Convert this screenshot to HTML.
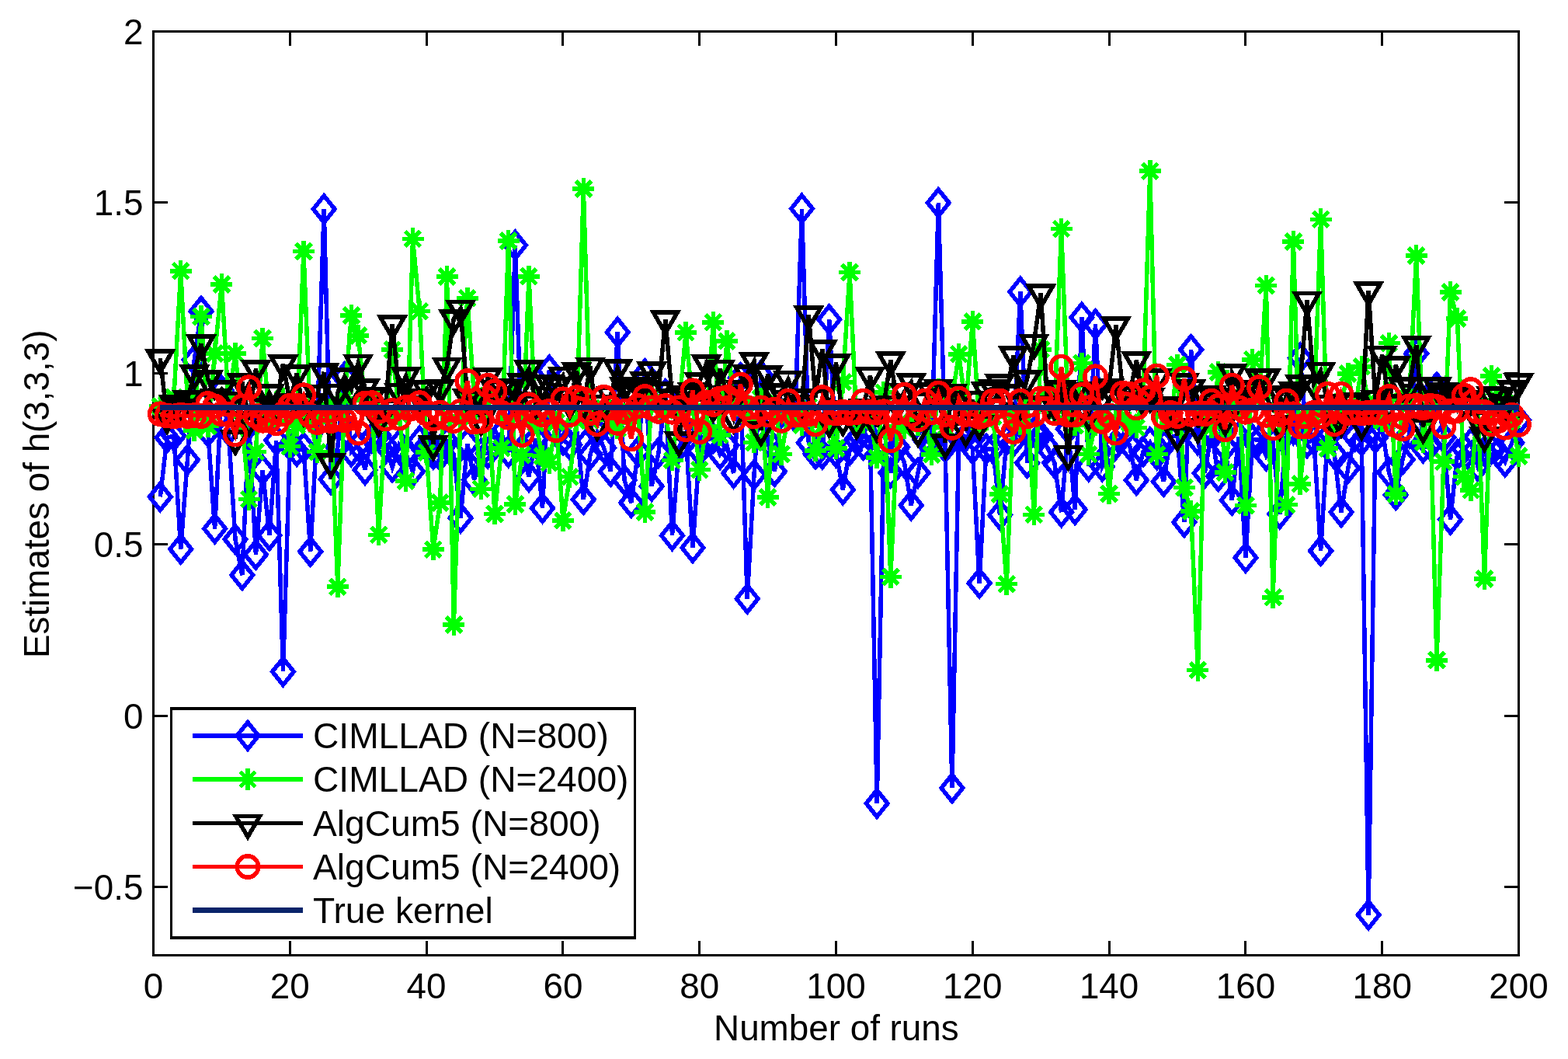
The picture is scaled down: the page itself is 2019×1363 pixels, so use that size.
<!DOCTYPE html>
<html lang="en"><head><meta charset="utf-8"><title>Estimates of h(3,3,3)</title>
<style>html,body{margin:0;padding:0;background:#fff}body{width:2019px;height:1363px;overflow:hidden}svg{display:block}text{font-family:"Liberation Sans",Arial,Helvetica,sans-serif;font-size:45.8px;fill:#000}</style></head><body>
<svg width="2019" height="1363" viewBox="0 0 2019 1363">
<rect x="0" y="0" width="2019" height="1363" fill="#fff"/>
<g stroke="#000" stroke-width="3" fill="none" shape-rendering="crispEdges">
<rect x="197.5" y="40.3" width="1758" height="1189.1"/>
<path d="M197.5,1229.4v-18.5M197.5,40.3v18.5M373.3,1229.4v-18.5M373.3,40.3v18.5M549.1,1229.4v-18.5M549.1,40.3v18.5M724.9,1229.4v-18.5M724.9,40.3v18.5M900.7,1229.4v-18.5M900.7,40.3v18.5M1076.5,1229.4v-18.5M1076.5,40.3v18.5M1252.3,1229.4v-18.5M1252.3,40.3v18.5M1428.1,1229.4v-18.5M1428.1,40.3v18.5M1603.9,1229.4v-18.5M1603.9,40.3v18.5M1779.7,1229.4v-18.5M1779.7,40.3v18.5M1955.5,1229.4v-18.5M1955.5,40.3v18.5M197.5,1141.3h18.5M1955.5,1141.3h-18.5M197.5,921.1h18.5M1955.5,921.1h-18.5M197.5,700.9h18.5M1955.5,700.9h-18.5M197.5,480.7h18.5M1955.5,480.7h-18.5M197.5,260.5h18.5M1955.5,260.5h-18.5M197.5,40.3h18.5M1955.5,40.3h-18.5"/>
</g>
<g shape-rendering="crispEdges">
<polyline points="206.3,639.4 215.1,563.2 223.9,561 232.7,706.8 241.4,591.8 250.2,463.3 259,400.7 267.8,555.7 276.6,680.4 285.4,502.9 294.2,554 303,694 311.8,740.2 320.6,546.9 329.4,713.8 338.1,605.1 346.9,689.2 355.7,566.7 364.5,864.4 373.3,573.3 382.1,580.8 390.9,576 399.7,709.9 408.5,546.9 417.2,269.1 426,616.9 434.8,575.1 443.6,485.3 452.4,581.3 461.2,573.3 470,604.6 478.8,563.7 487.6,560.1 496.4,573.3 505.1,601.3 513.9,572.5 522.7,583.9 531.5,606.8 540.3,567.6 549.1,573.8 557.9,584.4 566.7,586.6 575.5,568.5 584.3,585.2 593,666.7 601.8,571.1 610.6,617.8 619.4,583.9 628.2,583.5 637,571.6 645.8,557.5 654.6,582.2 663.4,315.7 672.2,578.6 681,613.6 689.7,564.5 698.5,654.1 707.3,476.5 716.1,553.1 724.9,566.3 733.7,572.5 742.5,552.2 751.3,642.9 760.1,584.8 768.9,556.2 777.6,576.4 786.4,606.8 795.2,427.6 804,617.8 812.8,647 821.6,581.3 830.4,481.3 839.2,625.8 848,582.6 856.8,507.3 865.5,689.2 874.3,575.5 883.1,557.9 891.9,705 900.7,580.4 909.5,565.9 918.3,564.1 927.1,584.8 935.9,573.3 944.6,609 953.4,486.2 962.2,770.6 971,611.2 979.8,483.1 988.6,567.2 997.4,606.8 1006.2,531.5 1015,530.2 1023.8,537.2 1032.5,268.6 1041.3,569.8 1050.1,584.4 1058.9,584.4 1067.7,411.3 1076.5,582.2 1085.3,630.3 1094.1,579.5 1102.9,565.9 1111.7,572.9 1120.5,562.8 1129.2,1034 1138,571.6 1146.8,608.6 1155.6,575.5 1164.4,595.4 1173.2,650.4 1182,608.6 1190.8,565.9 1199.6,570.7 1208.3,261.1 1217.1,576 1225.9,1014.2 1234.7,558.4 1243.5,561.9 1252.3,577.8 1261.1,750.6 1269.9,577.8 1278.7,577.8 1287.5,662.7 1296.2,566.3 1305,568.1 1313.8,375.6 1322.6,595.8 1331.4,555.7 1340.2,561 1349,576.4 1357.8,595.8 1366.6,659.2 1375.4,552.2 1384.2,655.9 1392.9,408.6 1401.7,600.2 1410.5,417.2 1419.3,600.2 1428.1,582.6 1436.9,572 1445.7,559.7 1454.5,573.3 1463.3,618 1472,581.3 1480.8,569.4 1489.6,585.2 1498.4,619.8 1507.2,563.2 1516,559.7 1524.8,672.2 1533.6,450 1542.4,566.3 1551.2,609 1560,555.7 1568.7,613 1577.5,575.5 1586.3,643.8 1595.1,561.9 1603.9,717.8 1612.7,565.4 1621.5,566.3 1630.3,586.6 1639.1,570.7 1647.8,661.4 1656.6,557.1 1665.4,553.1 1674.2,460.6 1683,569.8 1691.8,565.9 1700.6,709 1709.4,563.2 1718.2,584.4 1727,659.2 1735.8,602.4 1744.5,561.9 1753.3,567.2 1762.1,1177.5 1770.9,563.7 1779.7,551.8 1788.5,608.1 1797.3,637 1806.1,591.4 1814.9,557.5 1823.7,455.1 1832.4,576.4 1841.2,572.9 1850,498.5 1858.8,563.2 1867.6,668.6 1876.4,585.7 1885.2,577.8 1894,570.3 1902.8,599.8 1911.5,580.8 1920.3,577.8 1929.1,582.6 1937.9,594.6 1946.7,569.8 1955.5,540.8" fill="none" stroke="#0000ff" stroke-width="5.5" stroke-linejoin="miter"/>
<path d="M206.3,622.2L220.1,639.4L206.3,656.6L192.5,639.4ZM215.1,546L228.9,563.2L215.1,580.4L201.3,563.2ZM223.9,543.8L237.7,561L223.9,578.2L210.1,561ZM232.7,689.6L246.5,706.8L232.7,724L218.9,706.8ZM241.4,574.6L255.2,591.8L241.4,609L227.6,591.8ZM250.2,446.1L264,463.3L250.2,480.5L236.4,463.3ZM259,383.5L272.8,400.7L259,417.9L245.2,400.7ZM267.8,538.5L281.6,555.7L267.8,572.9L254,555.7ZM276.6,663.2L290.4,680.4L276.6,697.6L262.8,680.4ZM285.4,485.7L299.2,502.9L285.4,520.1L271.6,502.9ZM294.2,536.8L308,554L294.2,571.2L280.4,554ZM303,676.8L316.8,694L303,711.2L289.2,694ZM311.8,723L325.6,740.2L311.8,757.4L298,740.2ZM320.6,529.7L334.4,546.9L320.6,564.1L306.8,546.9ZM329.4,696.6L343.2,713.8L329.4,731L315.6,713.8ZM338.1,587.9L351.9,605.1L338.1,622.3L324.3,605.1ZM346.9,672L360.7,689.2L346.9,706.4L333.1,689.2ZM355.7,549.5L369.5,566.7L355.7,583.9L341.9,566.7ZM364.5,847.2L378.3,864.4L364.5,881.6L350.7,864.4ZM373.3,556.1L387.1,573.3L373.3,590.5L359.5,573.3ZM382.1,563.6L395.9,580.8L382.1,598L368.3,580.8ZM390.9,558.8L404.7,576L390.9,593.2L377.1,576ZM399.7,692.7L413.5,709.9L399.7,727.1L385.9,709.9ZM408.5,529.7L422.3,546.9L408.5,564.1L394.7,546.9ZM417.2,251.9L431.1,269.1L417.2,286.3L403.4,269.1ZM426,599.7L439.8,616.9L426,634.1L412.2,616.9ZM434.8,557.9L448.6,575.1L434.8,592.3L421,575.1ZM443.6,468.1L457.4,485.3L443.6,502.5L429.8,485.3ZM452.4,564.1L466.2,581.3L452.4,598.5L438.6,581.3ZM461.2,556.1L475,573.3L461.2,590.5L447.4,573.3ZM470,587.4L483.8,604.6L470,621.8L456.2,604.6ZM478.8,546.5L492.6,563.7L478.8,580.9L465,563.7ZM487.6,542.9L501.4,560.1L487.6,577.3L473.8,560.1ZM496.4,556.1L510.2,573.3L496.4,590.5L482.6,573.3ZM505.1,584.1L518.9,601.3L505.1,618.5L491.3,601.3ZM513.9,555.3L527.7,572.5L513.9,589.7L500.1,572.5ZM522.7,566.7L536.5,583.9L522.7,601.1L508.9,583.9ZM531.5,589.6L545.3,606.8L531.5,624L517.7,606.8ZM540.3,550.4L554.1,567.6L540.3,584.8L526.5,567.6ZM549.1,556.6L562.9,573.8L549.1,591L535.3,573.8ZM557.9,567.2L571.7,584.4L557.9,601.6L544.1,584.4ZM566.7,569.4L580.5,586.6L566.7,603.8L552.9,586.6ZM575.5,551.3L589.3,568.5L575.5,585.7L561.7,568.5ZM584.3,568L598.1,585.2L584.3,602.4L570.5,585.2ZM593,649.5L606.8,666.7L593,683.9L579.2,666.7ZM601.8,553.9L615.6,571.1L601.8,588.3L588,571.1ZM610.6,600.6L624.4,617.8L610.6,635L596.8,617.8ZM619.4,566.7L633.2,583.9L619.4,601.1L605.6,583.9ZM628.2,566.3L642,583.5L628.2,600.7L614.4,583.5ZM637,554.4L650.8,571.6L637,588.8L623.2,571.6ZM645.8,540.3L659.6,557.5L645.8,574.7L632,557.5ZM654.6,565L668.4,582.2L654.6,599.4L640.8,582.2ZM663.4,298.5L677.2,315.7L663.4,332.9L649.6,315.7ZM672.2,561.4L686,578.6L672.2,595.8L658.4,578.6ZM681,596.4L694.8,613.6L681,630.8L667.2,613.6ZM689.7,547.3L703.5,564.5L689.7,581.7L675.9,564.5ZM698.5,636.9L712.3,654.1L698.5,671.3L684.7,654.1ZM707.3,459.3L721.1,476.5L707.3,493.7L693.5,476.5ZM716.1,535.9L729.9,553.1L716.1,570.3L702.3,553.1ZM724.9,549.1L738.7,566.3L724.9,583.5L711.1,566.3ZM733.7,555.3L747.5,572.5L733.7,589.7L719.9,572.5ZM742.5,535L756.3,552.2L742.5,569.4L728.7,552.2ZM751.3,625.7L765.1,642.9L751.3,660.1L737.5,642.9ZM760.1,567.6L773.9,584.8L760.1,602L746.3,584.8ZM768.9,539L782.6,556.2L768.9,573.4L755.1,556.2ZM777.6,559.2L791.4,576.4L777.6,593.6L763.8,576.4ZM786.4,589.6L800.2,606.8L786.4,624L772.6,606.8ZM795.2,410.4L809,427.6L795.2,444.8L781.4,427.6ZM804,600.6L817.8,617.8L804,635L790.2,617.8ZM812.8,629.8L826.6,647L812.8,664.2L799,647ZM821.6,564.1L835.4,581.3L821.6,598.5L807.8,581.3ZM830.4,464.1L844.2,481.3L830.4,498.5L816.6,481.3ZM839.2,608.6L853,625.8L839.2,643L825.4,625.8ZM848,565.4L861.8,582.6L848,599.8L834.2,582.6ZM856.8,490.1L870.5,507.3L856.8,524.5L843,507.3ZM865.5,672L879.3,689.2L865.5,706.4L851.7,689.2ZM874.3,558.3L888.1,575.5L874.3,592.7L860.5,575.5ZM883.1,540.7L896.9,557.9L883.1,575.1L869.3,557.9ZM891.9,687.8L905.7,705L891.9,722.2L878.1,705ZM900.7,563.2L914.5,580.4L900.7,597.6L886.9,580.4ZM909.5,548.7L923.3,565.9L909.5,583.1L895.7,565.9ZM918.3,546.9L932.1,564.1L918.3,581.3L904.5,564.1ZM927.1,567.6L940.9,584.8L927.1,602L913.3,584.8ZM935.9,556.1L949.7,573.3L935.9,590.5L922.1,573.3ZM944.6,591.8L958.4,609L944.6,626.2L930.9,609ZM953.4,469L967.2,486.2L953.4,503.4L939.6,486.2ZM962.2,753.4L976,770.6L962.2,787.8L948.4,770.6ZM971,594L984.8,611.2L971,628.4L957.2,611.2ZM979.8,465.9L993.6,483.1L979.8,500.3L966,483.1ZM988.6,550L1002.4,567.2L988.6,584.4L974.8,567.2ZM997.4,589.6L1011.2,606.8L997.4,624L983.6,606.8ZM1006.2,514.3L1020,531.5L1006.2,548.7L992.4,531.5ZM1015,513L1028.8,530.2L1015,547.4L1001.2,530.2ZM1023.8,520L1037.6,537.2L1023.8,554.4L1010,537.2ZM1032.5,251.4L1046.3,268.6L1032.5,285.8L1018.8,268.6ZM1041.3,552.6L1055.1,569.8L1041.3,587L1027.5,569.8ZM1050.1,567.2L1063.9,584.4L1050.1,601.6L1036.3,584.4ZM1058.9,567.2L1072.7,584.4L1058.9,601.6L1045.1,584.4ZM1067.7,394.1L1081.5,411.3L1067.7,428.5L1053.9,411.3ZM1076.5,565L1090.3,582.2L1076.5,599.4L1062.7,582.2ZM1085.3,613.1L1099.1,630.3L1085.3,647.5L1071.5,630.3ZM1094.1,562.3L1107.9,579.5L1094.1,596.7L1080.3,579.5ZM1102.9,548.7L1116.7,565.9L1102.9,583.1L1089.1,565.9ZM1111.7,555.7L1125.5,572.9L1111.7,590.1L1097.9,572.9ZM1120.5,545.6L1134.2,562.8L1120.5,580L1106.7,562.8ZM1129.2,1016.8L1143,1034L1129.2,1051.2L1115.4,1034ZM1138,554.4L1151.8,571.6L1138,588.8L1124.2,571.6ZM1146.8,591.4L1160.6,608.6L1146.8,625.8L1133,608.6ZM1155.6,558.3L1169.4,575.5L1155.6,592.7L1141.8,575.5ZM1164.4,578.2L1178.2,595.4L1164.4,612.6L1150.6,595.4ZM1173.2,633.2L1187,650.4L1173.2,667.6L1159.4,650.4ZM1182,591.4L1195.8,608.6L1182,625.8L1168.2,608.6ZM1190.8,548.7L1204.6,565.9L1190.8,583.1L1177,565.9ZM1199.6,553.5L1213.4,570.7L1199.6,587.9L1185.8,570.7ZM1208.3,243.9L1222.1,261.1L1208.3,278.3L1194.5,261.1ZM1217.1,558.8L1230.9,576L1217.1,593.2L1203.3,576ZM1225.9,997L1239.7,1014.2L1225.9,1031.4L1212.1,1014.2ZM1234.7,541.2L1248.5,558.4L1234.7,575.6L1220.9,558.4ZM1243.5,544.7L1257.3,561.9L1243.5,579.1L1229.7,561.9ZM1252.3,560.6L1266.1,577.8L1252.3,595L1238.5,577.8ZM1261.1,733.4L1274.9,750.6L1261.1,767.8L1247.3,750.6ZM1269.9,560.6L1283.7,577.8L1269.9,595L1256.1,577.8ZM1278.7,560.6L1292.5,577.8L1278.7,595L1264.9,577.8ZM1287.5,645.5L1301.3,662.7L1287.5,679.9L1273.7,662.7ZM1296.2,549.1L1310,566.3L1296.2,583.5L1282.5,566.3ZM1305,550.9L1318.8,568.1L1305,585.3L1291.2,568.1ZM1313.8,358.4L1327.6,375.6L1313.8,392.8L1300,375.6ZM1322.6,578.6L1336.4,595.8L1322.6,613L1308.8,595.8ZM1331.4,538.5L1345.2,555.7L1331.4,572.9L1317.6,555.7ZM1340.2,543.8L1354,561L1340.2,578.2L1326.4,561ZM1349,559.2L1362.8,576.4L1349,593.6L1335.2,576.4ZM1357.8,578.6L1371.6,595.8L1357.8,613L1344,595.8ZM1366.6,642L1380.4,659.2L1366.6,676.4L1352.8,659.2ZM1375.4,535L1389.2,552.2L1375.4,569.4L1361.6,552.2ZM1384.2,638.7L1398,655.9L1384.2,673.1L1370.4,655.9ZM1392.9,391.4L1406.7,408.6L1392.9,425.8L1379.1,408.6ZM1401.7,583L1415.5,600.2L1401.7,617.4L1387.9,600.2ZM1410.5,400L1424.3,417.2L1410.5,434.4L1396.7,417.2ZM1419.3,583L1433.1,600.2L1419.3,617.4L1405.5,600.2ZM1428.1,565.4L1441.9,582.6L1428.1,599.8L1414.3,582.6ZM1436.9,554.8L1450.7,572L1436.9,589.2L1423.1,572ZM1445.7,542.5L1459.5,559.7L1445.7,576.9L1431.9,559.7ZM1454.5,556.1L1468.3,573.3L1454.5,590.5L1440.7,573.3ZM1463.3,600.8L1477.1,618L1463.3,635.2L1449.5,618ZM1472,564.1L1485.8,581.3L1472,598.5L1458.2,581.3ZM1480.8,552.2L1494.6,569.4L1480.8,586.6L1467,569.4ZM1489.6,568L1503.4,585.2L1489.6,602.4L1475.8,585.2ZM1498.4,602.6L1512.2,619.8L1498.4,637L1484.6,619.8ZM1507.2,546L1521,563.2L1507.2,580.4L1493.4,563.2ZM1516,542.5L1529.8,559.7L1516,576.9L1502.2,559.7ZM1524.8,655L1538.6,672.2L1524.8,689.4L1511,672.2ZM1533.6,432.8L1547.4,450L1533.6,467.2L1519.8,450ZM1542.4,549.1L1556.2,566.3L1542.4,583.5L1528.6,566.3ZM1551.2,591.8L1565,609L1551.2,626.2L1537.4,609ZM1560,538.5L1573.8,555.7L1560,572.9L1546.2,555.7ZM1568.7,595.8L1582.5,613L1568.7,630.2L1554.9,613ZM1577.5,558.3L1591.3,575.5L1577.5,592.7L1563.7,575.5ZM1586.3,626.6L1600.1,643.8L1586.3,661L1572.5,643.8ZM1595.1,544.7L1608.9,561.9L1595.1,579.1L1581.3,561.9ZM1603.9,700.6L1617.7,717.8L1603.9,735L1590.1,717.8ZM1612.7,548.2L1626.5,565.4L1612.7,582.6L1598.9,565.4ZM1621.5,549.1L1635.3,566.3L1621.5,583.5L1607.7,566.3ZM1630.3,569.4L1644.1,586.6L1630.3,603.8L1616.5,586.6ZM1639.1,553.5L1652.9,570.7L1639.1,587.9L1625.3,570.7ZM1647.8,644.2L1661.6,661.4L1647.8,678.6L1634,661.4ZM1656.6,539.9L1670.4,557.1L1656.6,574.3L1642.8,557.1ZM1665.4,535.9L1679.2,553.1L1665.4,570.3L1651.6,553.1ZM1674.2,443.4L1688,460.6L1674.2,477.8L1660.4,460.6ZM1683,552.6L1696.8,569.8L1683,587L1669.2,569.8ZM1691.8,548.7L1705.6,565.9L1691.8,583.1L1678,565.9ZM1700.6,691.8L1714.4,709L1700.6,726.2L1686.8,709ZM1709.4,546L1723.2,563.2L1709.4,580.4L1695.6,563.2ZM1718.2,567.2L1732,584.4L1718.2,601.6L1704.4,584.4ZM1727,642L1740.8,659.2L1727,676.4L1713.2,659.2ZM1735.8,585.2L1749.5,602.4L1735.8,619.6L1722,602.4ZM1744.5,544.7L1758.3,561.9L1744.5,579.1L1730.7,561.9ZM1753.3,550L1767.1,567.2L1753.3,584.4L1739.5,567.2ZM1762.1,1160.3L1775.9,1177.5L1762.1,1194.7L1748.3,1177.5ZM1770.9,546.5L1784.7,563.7L1770.9,580.9L1757.1,563.7ZM1779.7,534.6L1793.5,551.8L1779.7,569L1765.9,551.8ZM1788.5,590.9L1802.3,608.1L1788.5,625.3L1774.7,608.1ZM1797.3,619.8L1811.1,637L1797.3,654.2L1783.5,637ZM1806.1,574.2L1819.9,591.4L1806.1,608.6L1792.3,591.4ZM1814.9,540.3L1828.7,557.5L1814.9,574.7L1801.1,557.5ZM1823.7,437.9L1837.5,455.1L1823.7,472.3L1809.9,455.1ZM1832.4,559.2L1846.2,576.4L1832.4,593.6L1818.6,576.4ZM1841.2,555.7L1855,572.9L1841.2,590.1L1827.4,572.9ZM1850,481.3L1863.8,498.5L1850,515.7L1836.2,498.5ZM1858.8,546L1872.6,563.2L1858.8,580.4L1845,563.2ZM1867.6,651.4L1881.4,668.6L1867.6,685.8L1853.8,668.6ZM1876.4,568.5L1890.2,585.7L1876.4,602.9L1862.6,585.7ZM1885.2,560.6L1899,577.8L1885.2,595L1871.4,577.8ZM1894,553.1L1907.8,570.3L1894,587.5L1880.2,570.3ZM1902.8,582.6L1916.6,599.8L1902.8,617L1889,599.8ZM1911.5,563.6L1925.3,580.8L1911.5,598L1897.8,580.8ZM1920.3,560.6L1934.1,577.8L1920.3,595L1906.5,577.8ZM1929.1,565.4L1942.9,582.6L1929.1,599.8L1915.3,582.6ZM1937.9,577.4L1951.7,594.6L1937.9,611.8L1924.1,594.6ZM1946.7,552.6L1960.5,569.8L1946.7,587L1932.9,569.8ZM1955.5,523.6L1969.3,540.8L1955.5,558L1941.7,540.8Z" fill="none" stroke="#0000ff" stroke-width="5.5" stroke-linejoin="miter" stroke-miterlimit="10"/>
<polyline points="206.3,523.1 215.1,520.5 223.9,511.7 232.7,348.8 241.4,516.1 250.2,554 259,407.3 267.8,548.7 276.6,454.9 285.4,365.9 294.2,517.4 303,454.9 311.8,545.6 320.6,642.5 329.4,581.3 338.1,435.5 346.9,540.3 355.7,534.2 364.5,513 373.3,574.7 382.1,547.8 390.9,323.7 399.7,542.5 408.5,581.7 417.2,531.5 426,527.1 434.8,755.2 443.6,512.6 452.4,406 461.2,432 470,515.2 478.8,513.5 487.6,688.3 496.4,539 505.1,450 513.9,532.8 522.7,619.1 531.5,307.4 540.3,400.7 549.1,582.2 557.9,707.2 566.7,647 575.5,356.2 584.3,804.1 593,535.5 601.8,383.8 610.6,512.6 619.4,629.3 628.2,509.1 637,661.4 645.8,576.9 654.6,310.2 663.4,649.2 672.2,585.7 681,355.8 689.7,544.7 698.5,587 707.3,595.8 716.1,543.4 724.9,670 733.7,613.6 742.5,541.2 751.3,243.1 760.1,541.2 768.9,530.2 777.6,525.3 786.4,539.9 795.2,551.3 804,532.8 812.8,535 821.6,526.2 830.4,659.2 839.2,509.5 848,520.9 856.8,528.4 865.5,592.4 874.3,524 883.1,428 891.9,521.4 900.7,604.6 909.5,549.1 918.3,414.8 927.1,560.1 935.9,439 944.6,511.7 953.4,517 962.2,533.7 971,569.4 979.8,513 988.6,639.8 997.4,516.1 1006.2,584.6 1015,534.2 1023.8,533.7 1032.5,546.9 1041.3,523.6 1050.1,580.1 1058.9,548.7 1067.7,548.2 1076.5,576.9 1085.3,491.9 1094.1,350.7 1102.9,542.1 1111.7,544.3 1120.5,536.4 1129.2,589.2 1138,505.1 1146.8,742.5 1155.6,549.1 1164.4,551.3 1173.2,544.7 1182,546.9 1190.8,535.5 1199.6,584.8 1208.3,500.7 1217.1,550 1225.9,513 1234.7,455.8 1243.5,524.5 1252.3,413.9 1261.1,544.7 1269.9,540.3 1278.7,535.9 1287.5,635.9 1296.2,751.7 1305,535.5 1313.8,546 1322.6,513.9 1331.4,662.3 1340.2,450 1349,507.7 1357.8,530.6 1366.6,294.6 1375.4,530.2 1384.2,547.4 1392.9,467.7 1401.7,584.6 1410.5,546.9 1419.3,536.4 1428.1,635.4 1436.9,539.9 1445.7,514.8 1454.5,544.3 1463.3,550.4 1472,509.5 1480.8,220.2 1489.6,584.6 1498.4,528 1507.2,544.7 1516,469.6 1524.8,627.6 1533.6,658.1 1542.4,862.5 1551.2,527.5 1560,550 1568.7,479.1 1577.5,608.1 1586.3,528 1595.1,508.2 1603.9,650.4 1612.7,462.8 1621.5,513.5 1630.3,367.5 1639.1,768.9 1647.8,520.5 1656.6,649.7 1665.4,310.9 1674.2,622.9 1683,539.9 1691.8,535 1700.6,282.3 1709.4,576.9 1718.2,543.8 1727,517.4 1735.8,480.9 1744.5,528 1753.3,471.8 1762.1,517 1770.9,536.8 1779.7,541.6 1788.5,441.7 1797.3,635.9 1806.1,515.7 1814.9,508.2 1823.7,329.1 1832.4,568.9 1841.2,513.9 1850,849.8 1858.8,594.2 1867.6,376.1 1876.4,410 1885.2,613.6 1894,631 1902.8,515.7 1911.5,745.1 1920.3,484 1929.1,515.2 1937.9,518.7 1946.7,541.2 1955.5,586.8" fill="none" stroke="#00ff00" stroke-width="5.5" stroke-linejoin="miter"/>
<path d="M192.3,523.1H220.3M206.3,509.1V537.1M196.4,513.2L216.2,533M196.4,533L216.2,513.2M201.1,520.5H229.1M215.1,506.5V534.5M205.2,510.6L225,530.4M205.2,530.4L225,510.6M209.9,511.7H237.9M223.9,497.7V525.7M214,501.8L233.8,521.6M214,521.6L233.8,501.8M218.7,348.8H246.7M232.7,334.8V362.8M222.8,338.9L242.6,358.7M222.8,358.7L242.6,338.9M227.4,516.1H255.4M241.4,502.1V530.1M231.6,506.2L251.3,526M231.6,526L251.3,506.2M236.2,554H264.2M250.2,540V568M240.3,544.1L260.1,563.9M240.3,563.9L260.1,544.1M245,407.3H273M259,393.3V421.3M249.1,397.4L268.9,417.2M249.1,417.2L268.9,397.4M253.8,548.7H281.8M267.8,534.7V562.7M257.9,538.8L277.7,558.6M257.9,558.6L277.7,538.8M262.6,454.9H290.6M276.6,440.9V468.9M266.7,445L286.5,464.8M266.7,464.8L286.5,445M271.4,365.9H299.4M285.4,351.9V379.9M275.5,356L295.3,375.8M275.5,375.8L295.3,356M280.2,517.4H308.2M294.2,503.4V531.4M284.3,507.5L304.1,527.3M284.3,527.3L304.1,507.5M289,454.9H317M303,440.9V468.9M293.1,445L312.9,464.8M293.1,464.8L312.9,445M297.8,545.6H325.8M311.8,531.6V559.6M301.9,535.7L321.7,555.5M301.9,555.5L321.7,535.7M306.6,642.5H334.6M320.6,628.5V656.5M310.7,632.6L330.5,652.4M310.7,652.4L330.5,632.6M315.4,581.3H343.4M329.4,567.3V595.3M319.5,571.4L339.2,591.2M319.5,591.2L339.2,571.4M324.1,435.5H352.1M338.1,421.5V449.5M328.2,425.6L348,445.4M328.2,445.4L348,425.6M332.9,540.3H360.9M346.9,526.3V554.3M337,530.4L356.8,550.2M337,550.2L356.8,530.4M341.7,534.2H369.7M355.7,520.2V548.2M345.8,524.3L365.6,544.1M345.8,544.1L365.6,524.3M350.5,513H378.5M364.5,499V527M354.6,503.1L374.4,522.9M354.6,522.9L374.4,503.1M359.3,574.7H387.3M373.3,560.7V588.7M363.4,564.8L383.2,584.6M363.4,584.6L383.2,564.8M368.1,547.8H396.1M382.1,533.8V561.8M372.2,537.9L392,557.7M372.2,557.7L392,537.9M376.9,323.7H404.9M390.9,309.7V337.7M381,313.8L400.8,333.6M381,333.6L400.8,313.8M385.7,542.5H413.7M399.7,528.5V556.5M389.8,532.6L409.6,552.4M389.8,552.4L409.6,532.6M394.5,581.7H422.5M408.5,567.7V595.7M398.6,571.8L418.4,591.6M398.6,591.6L418.4,571.8M403.2,531.5H431.2M417.2,517.5V545.5M407.4,521.6L427.1,541.4M407.4,541.4L427.1,521.6M412,527.1H440M426,513.1V541.1M416.1,517.2L435.9,537M416.1,537L435.9,517.2M420.8,755.2H448.8M434.8,741.2V769.2M424.9,745.3L444.7,765.1M424.9,765.1L444.7,745.3M429.6,512.6H457.6M443.6,498.6V526.6M433.7,502.7L453.5,522.5M433.7,522.5L453.5,502.7M438.4,406H466.4M452.4,392V420M442.5,396.1L462.3,415.9M442.5,415.9L462.3,396.1M447.2,432H475.2M461.2,418V446M451.3,422.1L471.1,441.9M451.3,441.9L471.1,422.1M456,515.2H484M470,501.2V529.2M460.1,505.3L479.9,525.1M460.1,525.1L479.9,505.3M464.8,513.5H492.8M478.8,499.5V527.5M468.9,503.6L488.7,523.4M468.9,523.4L488.7,503.6M473.6,688.3H501.6M487.6,674.3V702.3M477.7,678.4L497.5,698.2M477.7,698.2L497.5,678.4M482.4,539H510.4M496.4,525V553M486.5,529.1L506.3,548.9M486.5,548.9L506.3,529.1M491.1,450H519.1M505.1,436V464M495.3,440.1L515,459.9M495.3,459.9L515,440.1M499.9,532.8H527.9M513.9,518.8V546.8M504,522.9L523.8,542.7M504,542.7L523.8,522.9M508.7,619.1H536.7M522.7,605.1V633.1M512.8,609.2L532.6,629M512.8,629L532.6,609.2M517.5,307.4H545.5M531.5,293.4V321.4M521.6,297.5L541.4,317.3M521.6,317.3L541.4,297.5M526.3,400.7H554.3M540.3,386.7V414.7M530.4,390.8L550.2,410.6M530.4,410.6L550.2,390.8M535.1,582.2H563.1M549.1,568.2V596.2M539.2,572.3L559,592.1M539.2,592.1L559,572.3M543.9,707.2H571.9M557.9,693.2V721.2M548,697.3L567.8,717.1M548,717.1L567.8,697.3M552.7,647H580.7M566.7,633V661M556.8,637.1L576.6,656.9M556.8,656.9L576.6,637.1M561.5,356.2H589.5M575.5,342.2V370.2M565.6,346.3L585.4,366.1M565.6,366.1L585.4,346.3M570.3,804.1H598.3M584.3,790.1V818.1M574.4,794.2L594.2,814M574.4,814L594.2,794.2M579,535.5H607M593,521.5V549.5M583.2,525.6L602.9,545.4M583.2,545.4L602.9,525.6M587.8,383.8H615.8M601.8,369.8V397.8M591.9,373.9L611.7,393.7M591.9,393.7L611.7,373.9M596.6,512.6H624.6M610.6,498.6V526.6M600.7,502.7L620.5,522.5M600.7,522.5L620.5,502.7M605.4,629.3H633.4M619.4,615.3V643.3M609.5,619.4L629.3,639.2M609.5,639.2L629.3,619.4M614.2,509.1H642.2M628.2,495.1V523.1M618.3,499.2L638.1,519M618.3,519L638.1,499.2M623,661.4H651M637,647.4V675.4M627.1,651.5L646.9,671.3M627.1,671.3L646.9,651.5M631.8,576.9H659.8M645.8,562.9V590.9M635.9,567L655.7,586.8M635.9,586.8L655.7,567M640.6,310.2H668.6M654.6,296.2V324.2M644.7,300.3L664.5,320.1M644.7,320.1L664.5,300.3M649.4,649.2H677.4M663.4,635.2V663.2M653.5,639.3L673.3,659.1M653.5,659.1L673.3,639.3M658.2,585.7H686.2M672.2,571.7V599.7M662.3,575.8L682.1,595.6M662.3,595.6L682.1,575.8M667,355.8H695M681,341.8V369.8M671.1,345.9L690.8,365.7M671.1,365.7L690.8,345.9M675.7,544.7H703.7M689.7,530.7V558.7M679.8,534.8L699.6,554.6M679.8,554.6L699.6,534.8M684.5,587H712.5M698.5,573V601M688.6,577.1L708.4,596.9M688.6,596.9L708.4,577.1M693.3,595.8H721.3M707.3,581.8V609.8M697.4,585.9L717.2,605.7M697.4,605.7L717.2,585.9M702.1,543.4H730.1M716.1,529.4V557.4M706.2,533.5L726,553.3M706.2,553.3L726,533.5M710.9,670H738.9M724.9,656V684M715,660.1L734.8,679.9M715,679.9L734.8,660.1M719.7,613.6H747.7M733.7,599.6V627.6M723.8,603.7L743.6,623.5M723.8,623.5L743.6,603.7M728.5,541.2H756.5M742.5,527.2V555.2M732.6,531.3L752.4,551.1M732.6,551.1L752.4,531.3M737.3,243.1H765.3M751.3,229.1V257.1M741.4,233.2L761.2,253M741.4,253L761.2,233.2M746.1,541.2H774.1M760.1,527.2V555.2M750.2,531.3L770,551.1M750.2,551.1L770,531.3M754.9,530.2H782.9M768.9,516.2V544.2M759,520.3L778.7,540.1M759,540.1L778.7,520.3M763.6,525.3H791.6M777.6,511.3V539.3M767.7,515.4L787.5,535.2M767.7,535.2L787.5,515.4M772.4,539.9H800.4M786.4,525.9V553.9M776.5,530L796.3,549.8M776.5,549.8L796.3,530M781.2,551.3H809.2M795.2,537.3V565.3M785.3,541.4L805.1,561.2M785.3,561.2L805.1,541.4M790,532.8H818M804,518.8V546.8M794.1,522.9L813.9,542.7M794.1,542.7L813.9,522.9M798.8,535H826.8M812.8,521V549M802.9,525.1L822.7,544.9M802.9,544.9L822.7,525.1M807.6,526.2H835.6M821.6,512.2V540.2M811.7,516.3L831.5,536.1M811.7,536.1L831.5,516.3M816.4,659.2H844.4M830.4,645.2V673.2M820.5,649.3L840.3,669.1M820.5,669.1L840.3,649.3M825.2,509.5H853.2M839.2,495.5V523.5M829.3,499.6L849.1,519.4M829.3,519.4L849.1,499.6M834,520.9H862M848,506.9V534.9M838.1,511L857.9,530.8M838.1,530.8L857.9,511M842.8,528.4H870.8M856.8,514.4V542.4M846.9,518.5L866.6,538.3M846.9,538.3L866.6,518.5M851.5,592.4H879.5M865.5,578.4V606.4M855.6,582.5L875.4,602.3M855.6,602.3L875.4,582.5M860.3,524H888.3M874.3,510V538M864.4,514.1L884.2,533.9M864.4,533.9L884.2,514.1M869.1,428H897.1M883.1,414V442M873.2,418.1L893,437.9M873.2,437.9L893,418.1M877.9,521.4H905.9M891.9,507.4V535.4M882,511.5L901.8,531.3M882,531.3L901.8,511.5M886.7,604.6H914.7M900.7,590.6V618.6M890.8,594.7L910.6,614.5M890.8,614.5L910.6,594.7M895.5,549.1H923.5M909.5,535.1V563.1M899.6,539.2L919.4,559M899.6,559L919.4,539.2M904.3,414.8H932.3M918.3,400.8V428.8M908.4,404.9L928.2,424.7M908.4,424.7L928.2,404.9M913.1,560.1H941.1M927.1,546.1V574.1M917.2,550.2L937,570M917.2,570L937,550.2M921.9,439H949.9M935.9,425V453M926,429.1L945.8,448.9M926,448.9L945.8,429.1M930.6,511.7H958.6M944.6,497.7V525.7M934.8,501.8L954.5,521.6M934.8,521.6L954.5,501.8M939.4,517H967.4M953.4,503V531M943.5,507.1L963.3,526.9M943.5,526.9L963.3,507.1M948.2,533.7H976.2M962.2,519.7V547.7M952.3,523.8L972.1,543.6M952.3,543.6L972.1,523.8M957,569.4H985M971,555.4V583.4M961.1,559.5L980.9,579.3M961.1,579.3L980.9,559.5M965.8,513H993.8M979.8,499V527M969.9,503.1L989.7,522.9M969.9,522.9L989.7,503.1M974.6,639.8H1002.6M988.6,625.8V653.8M978.7,629.9L998.5,649.7M978.7,649.7L998.5,629.9M983.4,516.1H1011.4M997.4,502.1V530.1M987.5,506.2L1007.3,526M987.5,526L1007.3,506.2M992.2,584.6H1020.2M1006.2,570.6V598.6M996.3,574.7L1016.1,594.5M996.3,594.5L1016.1,574.7M1001,534.2H1029M1015,520.2V548.2M1005.1,524.3L1024.9,544.1M1005.1,544.1L1024.9,524.3M1009.8,533.7H1037.8M1023.8,519.7V547.7M1013.9,523.8L1033.7,543.6M1013.9,543.6L1033.7,523.8M1018.5,546.9H1046.5M1032.5,532.9V560.9M1022.7,537L1042.4,556.8M1022.7,556.8L1042.4,537M1027.3,523.6H1055.3M1041.3,509.6V537.6M1031.4,513.7L1051.2,533.5M1031.4,533.5L1051.2,513.7M1036.1,580.1H1064.1M1050.1,566.1V594.1M1040.2,570.2L1060,590M1040.2,590L1060,570.2M1044.9,548.7H1072.9M1058.9,534.7V562.7M1049,538.8L1068.8,558.6M1049,558.6L1068.8,538.8M1053.7,548.2H1081.7M1067.7,534.2V562.2M1057.8,538.3L1077.6,558.1M1057.8,558.1L1077.6,538.3M1062.5,576.9H1090.5M1076.5,562.9V590.9M1066.6,567L1086.4,586.8M1066.6,586.8L1086.4,567M1071.3,491.9H1099.3M1085.3,477.9V505.9M1075.4,482L1095.2,501.8M1075.4,501.8L1095.2,482M1080.1,350.7H1108.1M1094.1,336.7V364.7M1084.2,340.8L1104,360.6M1084.2,360.6L1104,340.8M1088.9,542.1H1116.9M1102.9,528.1V556.1M1093,532.2L1112.8,552M1093,552L1112.8,532.2M1097.7,544.3H1125.7M1111.7,530.3V558.3M1101.8,534.4L1121.6,554.2M1101.8,554.2L1121.6,534.4M1106.5,536.4H1134.5M1120.5,522.4V550.4M1110.6,526.5L1130.3,546.3M1110.6,546.3L1130.3,526.5M1115.2,589.2H1143.2M1129.2,575.2V603.2M1119.3,579.3L1139.1,599.1M1119.3,599.1L1139.1,579.3M1124,505.1H1152M1138,491.1V519.1M1128.1,495.2L1147.9,515M1128.1,515L1147.9,495.2M1132.8,742.5H1160.8M1146.8,728.5V756.5M1136.9,732.6L1156.7,752.3M1136.9,752.3L1156.7,732.6M1141.6,549.1H1169.6M1155.6,535.1V563.1M1145.7,539.2L1165.5,559M1145.7,559L1165.5,539.2M1150.4,551.3H1178.4M1164.4,537.3V565.3M1154.5,541.4L1174.3,561.2M1154.5,561.2L1174.3,541.4M1159.2,544.7H1187.2M1173.2,530.7V558.7M1163.3,534.8L1183.1,554.6M1163.3,554.6L1183.1,534.8M1168,546.9H1196M1182,532.9V560.9M1172.1,537L1191.9,556.8M1172.1,556.8L1191.9,537M1176.8,535.5H1204.8M1190.8,521.5V549.5M1180.9,525.6L1200.7,545.4M1180.9,545.4L1200.7,525.6M1185.6,584.8H1213.6M1199.6,570.8V598.8M1189.7,574.9L1209.5,594.7M1189.7,594.7L1209.5,574.9M1194.3,500.7H1222.3M1208.3,486.7V514.7M1198.5,490.8L1218.2,510.6M1198.5,510.6L1218.2,490.8M1203.1,550H1231.1M1217.1,536V564M1207.2,540.1L1227,559.9M1207.2,559.9L1227,540.1M1211.9,513H1239.9M1225.9,499V527M1216,503.1L1235.8,522.9M1216,522.9L1235.8,503.1M1220.7,455.8H1248.7M1234.7,441.8V469.8M1224.8,445.9L1244.6,465.7M1224.8,465.7L1244.6,445.9M1229.5,524.5H1257.5M1243.5,510.5V538.5M1233.6,514.6L1253.4,534.4M1233.6,534.4L1253.4,514.6M1238.3,413.9H1266.3M1252.3,399.9V427.9M1242.4,404L1262.2,423.8M1242.4,423.8L1262.2,404M1247.1,544.7H1275.1M1261.1,530.7V558.7M1251.2,534.8L1271,554.6M1251.2,554.6L1271,534.8M1255.9,540.3H1283.9M1269.9,526.3V554.3M1260,530.4L1279.8,550.2M1260,550.2L1279.8,530.4M1264.7,535.9H1292.7M1278.7,521.9V549.9M1268.8,526L1288.6,545.8M1268.8,545.8L1288.6,526M1273.5,635.9H1301.5M1287.5,621.9V649.9M1277.6,626L1297.4,645.8M1277.6,645.8L1297.4,626M1282.2,751.7H1310.2M1296.2,737.7V765.7M1286.4,741.8L1306.1,761.6M1286.4,761.6L1306.1,741.8M1291,535.5H1319M1305,521.5V549.5M1295.1,525.6L1314.9,545.4M1295.1,545.4L1314.9,525.6M1299.8,546H1327.8M1313.8,532V560M1303.9,536.1L1323.7,555.9M1303.9,555.9L1323.7,536.1M1308.6,513.9H1336.6M1322.6,499.9V527.9M1312.7,504L1332.5,523.8M1312.7,523.8L1332.5,504M1317.4,662.3H1345.4M1331.4,648.3V676.3M1321.5,652.4L1341.3,672.2M1321.5,672.2L1341.3,652.4M1326.2,450H1354.2M1340.2,436V464M1330.3,440.1L1350.1,459.9M1330.3,459.9L1350.1,440.1M1335,507.7H1363M1349,493.7V521.7M1339.1,497.8L1358.9,517.6M1339.1,517.6L1358.9,497.8M1343.8,530.6H1371.8M1357.8,516.6V544.6M1347.9,520.7L1367.7,540.5M1347.9,540.5L1367.7,520.7M1352.6,294.6H1380.6M1366.6,280.6V308.6M1356.7,284.7L1376.5,304.5M1356.7,304.5L1376.5,284.7M1361.4,530.2H1389.4M1375.4,516.2V544.2M1365.5,520.3L1385.3,540.1M1365.5,540.1L1385.3,520.3M1370.2,547.4H1398.2M1384.2,533.4V561.4M1374.3,537.5L1394,557.3M1374.3,557.3L1394,537.5M1378.9,467.7H1406.9M1392.9,453.7V481.7M1383,457.8L1402.8,477.6M1383,477.6L1402.8,457.8M1387.7,584.6H1415.7M1401.7,570.6V598.6M1391.8,574.7L1411.6,594.5M1391.8,594.5L1411.6,574.7M1396.5,546.9H1424.5M1410.5,532.9V560.9M1400.6,537L1420.4,556.8M1400.6,556.8L1420.4,537M1405.3,536.4H1433.3M1419.3,522.4V550.4M1409.4,526.5L1429.2,546.3M1409.4,546.3L1429.2,526.5M1414.1,635.4H1442.1M1428.1,621.4V649.4M1418.2,625.5L1438,645.3M1418.2,645.3L1438,625.5M1422.9,539.9H1450.9M1436.9,525.9V553.9M1427,530L1446.8,549.8M1427,549.8L1446.8,530M1431.7,514.8H1459.7M1445.7,500.8V528.8M1435.8,504.9L1455.6,524.7M1435.8,524.7L1455.6,504.9M1440.5,544.3H1468.5M1454.5,530.3V558.3M1444.6,534.4L1464.4,554.2M1444.6,554.2L1464.4,534.4M1449.3,550.4H1477.3M1463.3,536.4V564.4M1453.4,540.5L1473.2,560.3M1453.4,560.3L1473.2,540.5M1458,509.5H1486M1472,495.5V523.5M1462.2,499.6L1481.9,519.4M1462.2,519.4L1481.9,499.6M1466.8,220.2H1494.8M1480.8,206.2V234.2M1470.9,210.3L1490.7,230.1M1470.9,230.1L1490.7,210.3M1475.6,584.6H1503.6M1489.6,570.6V598.6M1479.7,574.7L1499.5,594.5M1479.7,594.5L1499.5,574.7M1484.4,528H1512.4M1498.4,514V542M1488.5,518.1L1508.3,537.9M1488.5,537.9L1508.3,518.1M1493.2,544.7H1521.2M1507.2,530.7V558.7M1497.3,534.8L1517.1,554.6M1497.3,554.6L1517.1,534.8M1502,469.6H1530M1516,455.6V483.6M1506.1,459.7L1525.9,479.5M1506.1,479.5L1525.9,459.7M1510.8,627.6H1538.8M1524.8,613.6V641.6M1514.9,617.7L1534.7,637.5M1514.9,637.5L1534.7,617.7M1519.6,658.1H1547.6M1533.6,644.1V672.1M1523.7,648.2L1543.5,668M1523.7,668L1543.5,648.2M1528.4,862.5H1556.4M1542.4,848.5V876.5M1532.5,852.6L1552.3,872.4M1532.5,872.4L1552.3,852.6M1537.2,527.5H1565.2M1551.2,513.5V541.5M1541.3,517.7L1561.1,537.4M1541.3,537.4L1561.1,517.7M1546,550H1574M1560,536V564M1550.1,540.1L1569.8,559.9M1550.1,559.9L1569.8,540.1M1554.7,479.1H1582.7M1568.7,465.1V493.1M1558.8,469.2L1578.6,489M1558.8,489L1578.6,469.2M1563.5,608.1H1591.5M1577.5,594.1V622.1M1567.6,598.2L1587.4,618M1567.6,618L1587.4,598.2M1572.3,528H1600.3M1586.3,514V542M1576.4,518.1L1596.2,537.9M1576.4,537.9L1596.2,518.1M1581.1,508.2H1609.1M1595.1,494.2V522.2M1585.2,498.3L1605,518.1M1585.2,518.1L1605,498.3M1589.9,650.4H1617.9M1603.9,636.4V664.4M1594,640.5L1613.8,660.3M1594,660.3L1613.8,640.5M1598.7,462.8H1626.7M1612.7,448.8V476.8M1602.8,452.9L1622.6,472.7M1602.8,472.7L1622.6,452.9M1607.5,513.5H1635.5M1621.5,499.5V527.5M1611.6,503.6L1631.4,523.4M1611.6,523.4L1631.4,503.6M1616.3,367.5H1644.3M1630.3,353.5V381.5M1620.4,357.6L1640.2,377.4M1620.4,377.4L1640.2,357.6M1625.1,768.9H1653.1M1639.1,754.9V782.9M1629.2,759L1649,778.8M1629.2,778.8L1649,759M1633.8,520.5H1661.8M1647.8,506.5V534.5M1638,510.6L1657.7,530.4M1638,530.4L1657.7,510.6M1642.6,649.7H1670.6M1656.6,635.7V663.7M1646.7,639.8L1666.5,659.6M1646.7,659.6L1666.5,639.8M1651.4,310.9H1679.4M1665.4,296.9V324.9M1655.5,301L1675.3,320.8M1655.5,320.8L1675.3,301M1660.2,622.9H1688.2M1674.2,608.9V636.9M1664.3,613L1684.1,632.8M1664.3,632.8L1684.1,613M1669,539.9H1697M1683,525.9V553.9M1673.1,530L1692.9,549.8M1673.1,549.8L1692.9,530M1677.8,535H1705.8M1691.8,521V549M1681.9,525.1L1701.7,544.9M1681.9,544.9L1701.7,525.1M1686.6,282.3H1714.6M1700.6,268.3V296.3M1690.7,272.4L1710.5,292.2M1690.7,292.2L1710.5,272.4M1695.4,576.9H1723.4M1709.4,562.9V590.9M1699.5,567L1719.3,586.8M1699.5,586.8L1719.3,567M1704.2,543.8H1732.2M1718.2,529.8V557.8M1708.3,533.9L1728.1,553.7M1708.3,553.7L1728.1,533.9M1713,517.4H1741M1727,503.4V531.4M1717.1,507.5L1736.9,527.3M1717.1,527.3L1736.9,507.5M1721.8,480.9H1749.8M1735.8,466.9V494.9M1725.9,471L1745.6,490.8M1725.9,490.8L1745.6,471M1730.5,528H1758.5M1744.5,514V542M1734.6,518.1L1754.4,537.9M1734.6,537.9L1754.4,518.1M1739.3,471.8H1767.3M1753.3,457.8V485.8M1743.4,461.9L1763.2,481.7M1743.4,481.7L1763.2,461.9M1748.1,517H1776.1M1762.1,503V531M1752.2,507.1L1772,526.9M1752.2,526.9L1772,507.1M1756.9,536.8H1784.9M1770.9,522.8V550.8M1761,526.9L1780.8,546.7M1761,546.7L1780.8,526.9M1765.7,541.6H1793.7M1779.7,527.6V555.6M1769.8,531.7L1789.6,551.5M1769.8,551.5L1789.6,531.7M1774.5,441.7H1802.5M1788.5,427.7V455.7M1778.6,431.8L1798.4,451.6M1778.6,451.6L1798.4,431.8M1783.3,635.9H1811.3M1797.3,621.9V649.9M1787.4,626L1807.2,645.8M1787.4,645.8L1807.2,626M1792.1,515.7H1820.1M1806.1,501.7V529.7M1796.2,505.8L1816,525.6M1796.2,525.6L1816,505.8M1800.9,508.2H1828.9M1814.9,494.2V522.2M1805,498.3L1824.8,518.1M1805,518.1L1824.8,498.3M1809.7,329.1H1837.7M1823.7,315.1V343.1M1813.8,319.2L1833.5,339M1813.8,339L1833.5,319.2M1818.4,568.9H1846.4M1832.4,554.9V582.9M1822.5,559L1842.3,578.8M1822.5,578.8L1842.3,559M1827.2,513.9H1855.2M1841.2,499.9V527.9M1831.3,504L1851.1,523.8M1831.3,523.8L1851.1,504M1836,849.8H1864M1850,835.8V863.8M1840.1,839.9L1859.9,859.7M1840.1,859.7L1859.9,839.9M1844.8,594.2H1872.8M1858.8,580.2V608.2M1848.9,584.3L1868.7,604.1M1848.9,604.1L1868.7,584.3M1853.6,376.1H1881.6M1867.6,362.1V390.1M1857.7,366.2L1877.5,386M1857.7,386L1877.5,366.2M1862.4,410H1890.4M1876.4,396V424M1866.5,400.1L1886.3,419.9M1866.5,419.9L1886.3,400.1M1871.2,613.6H1899.2M1885.2,599.6V627.6M1875.3,603.7L1895.1,623.5M1875.3,623.5L1895.1,603.7M1880,631H1908M1894,617V645M1884.1,621.1L1903.9,640.9M1884.1,640.9L1903.9,621.1M1888.8,515.7H1916.8M1902.8,501.7V529.7M1892.9,505.8L1912.7,525.6M1892.9,525.6L1912.7,505.8M1897.5,745.1H1925.5M1911.5,731.1V759.1M1901.7,735.2L1921.4,755M1901.7,755L1921.4,735.2M1906.3,484H1934.3M1920.3,470V498M1910.4,474.1L1930.2,493.9M1910.4,493.9L1930.2,474.1M1915.1,515.2H1943.1M1929.1,501.2V529.2M1919.2,505.3L1939,525.1M1919.2,525.1L1939,505.3M1923.9,518.7H1951.9M1937.9,504.7V532.7M1928,508.8L1947.8,528.6M1928,528.6L1947.8,508.8M1932.7,541.2H1960.7M1946.7,527.2V555.2M1936.8,531.3L1956.6,551.1M1936.8,551.1L1956.6,531.3M1941.5,586.8H1969.5M1955.5,572.8V600.8M1945.6,576.9L1965.4,596.7M1945.6,596.7L1965.4,576.9" fill="none" stroke="#00ff00" stroke-width="5.5" stroke-linejoin="miter" stroke-miterlimit="10"/>
<polyline points="206.3,461.1 215.1,537.7 223.9,519.6 232.7,524.9 241.4,513.9 250.2,480.9 259,442.1 267.8,487.9 276.6,511.3 285.4,501.1 294.2,515.7 303,565 311.8,491.9 320.6,540.8 329.4,474.7 338.1,524 346.9,505.8 355.7,524 364.5,468.1 373.3,517.4 382.1,480.9 390.9,528 399.7,517.9 408.5,506.4 417.2,479.1 426,594.9 434.8,505.5 443.6,484.8 452.4,501.1 461.2,467.2 470,498.9 478.8,509.5 487.6,541.6 496.4,524.9 505.1,417 513.9,504.2 522.7,484 531.5,511.7 540.3,511.7 549.1,500.7 557.9,572 566.7,499.8 575.5,471.2 584.3,410 593,397.6 601.8,511.7 610.6,513 619.4,539.9 628.2,484.8 637,500.2 645.8,498.9 654.6,499.8 663.4,515.2 672.2,491.9 681,474.7 689.7,519.2 698.5,493.6 707.3,493.6 716.1,496.3 724.9,483.5 733.7,518.7 742.5,477.8 751.3,519.6 760.1,471.2 768.9,546.7 777.6,519.6 786.4,508.6 795.2,473.8 804,496.7 812.8,501.1 821.6,496.7 830.4,490.1 839.2,477.1 848,502.9 856.8,411.1 865.5,512.1 874.3,566.7 883.1,507.7 891.9,503.8 900.7,491.2 909.5,467.8 918.3,522.7 927.1,474.4 935.9,507.3 944.6,537.2 953.4,500.7 962.2,480.9 971,465 979.8,553.3 988.6,481.8 997.4,504.2 1006.2,505.1 1015,488.4 1023.8,512.1 1032.5,520.1 1041.3,404.8 1050.1,511.7 1058.9,448.9 1067.7,542.5 1076.5,466.8 1085.3,540.3 1094.1,527.1 1102.9,544.7 1111.7,524.9 1120.5,483.5 1129.2,549.1 1138,520.5 1146.8,463.9 1155.6,520.5 1164.4,504.2 1173.2,491.9 1182,554.4 1190.8,516.1 1199.6,503.8 1208.3,499.4 1217.1,570 1225.9,505.7 1234.7,514.3 1243.5,554.4 1252.3,514.3 1261.1,545.6 1269.9,502.9 1278.7,499.8 1287.5,492.8 1296.2,506 1305,457.1 1313.8,520.5 1322.6,487.9 1331.4,441.2 1340.2,377.2 1349,521.4 1357.8,520.9 1366.6,501.1 1375.4,584.6 1384.2,503.8 1392.9,520.9 1401.7,533.7 1410.5,502.9 1419.3,511.7 1428.1,498.9 1436.9,418.8 1445.7,502.9 1454.5,507.7 1463.3,463.9 1472,515.7 1480.8,510.4 1489.6,486.2 1498.4,521.4 1507.2,524.5 1516,560.1 1524.8,491.9 1533.6,499.4 1542.4,550 1551.2,509.1 1560,507.7 1568.7,510.8 1577.5,540.3 1586.3,480 1595.1,500.2 1603.9,513.5 1612.7,502 1621.5,485.7 1630.3,485.7 1639.1,508.6 1647.8,545.6 1656.6,507.3 1665.4,502.9 1674.2,494.1 1683,386.2 1691.8,493.7 1700.6,477.3 1709.4,519.2 1718.2,544.7 1727,542.3 1735.8,518.3 1744.5,517 1753.3,545.6 1762.1,373.9 1770.9,513.5 1779.7,456.6 1788.5,518.7 1797.3,469.7 1806.1,496.7 1814.9,496.7 1823.7,443.9 1832.4,550 1841.2,496.7 1850,496.7 1858.8,503.3 1867.6,504.2 1876.4,509.5 1885.2,517.9 1894,513.9 1902.8,540.3 1911.5,561 1920.3,509.1 1929.1,509.5 1937.9,521.4 1946.7,500.7 1955.5,491.9" fill="none" stroke="#000000" stroke-width="5.5" stroke-linejoin="miter"/>
<path d="M190.8,452.1L221.8,452.1L206.3,478.9ZM199.6,528.7L230.5,528.7L215.1,555.5ZM208.4,510.7L239.3,510.7L223.9,537.5ZM217.2,516L248.1,516L232.7,542.8ZM226,505L256.9,505L241.4,531.8ZM234.8,471.9L265.7,471.9L250.2,498.7ZM243.6,433.2L274.5,433.2L259,460ZM252.4,479L283.3,479L267.8,505.8ZM261.1,502.3L292.1,502.3L276.6,529.1ZM269.9,492.2L300.9,492.2L285.4,519ZM278.7,506.7L309.7,506.7L294.2,533.5ZM287.5,556.1L318.4,556.1L303,582.8ZM296.3,482.9L327.2,482.9L311.8,509.7ZM305.1,531.8L336,531.8L320.6,558.6ZM313.9,465.8L344.8,465.8L329.4,492.6ZM322.7,515.1L353.6,515.1L338.1,541.9ZM331.5,496.8L362.4,496.8L346.9,523.6ZM340.3,515.1L371.2,515.1L355.7,541.9ZM349,459.2L380,459.2L364.5,486ZM357.8,508.5L388.8,508.5L373.3,535.3ZM366.6,471.9L397.6,471.9L382.1,498.7ZM375.4,519.1L406.3,519.1L390.9,545.9ZM384.2,508.9L415.1,508.9L399.7,535.7ZM393,497.5L423.9,497.5L408.5,524.3ZM401.8,470.2L432.7,470.2L417.2,497ZM410.6,586L441.5,586L426,612.8ZM419.4,496.6L450.3,496.6L434.8,523.4ZM428.2,475.9L459.1,475.9L443.6,502.7ZM436.9,492.2L467.9,492.2L452.4,519ZM445.7,458.3L476.7,458.3L461.2,485.1ZM454.5,490L485.5,490L470,516.8ZM463.3,500.6L494.2,500.6L478.8,527.4ZM472.1,532.7L503,532.7L487.6,559.5ZM480.9,516L511.8,516L496.4,542.8ZM489.7,408.1L520.6,408.1L505.1,434.9ZM498.5,495.3L529.4,495.3L513.9,522.1ZM507.3,475L538.2,475L522.7,501.8ZM516.1,502.8L547,502.8L531.5,529.6ZM524.8,502.8L555.8,502.8L540.3,529.6ZM533.6,491.8L564.6,491.8L549.1,518.5ZM542.4,563.1L573.4,563.1L557.9,589.9ZM551.2,490.9L582.1,490.9L566.7,517.7ZM560,462.3L590.9,462.3L575.5,489ZM568.8,401L599.7,401L584.3,427.8ZM577.6,388.7L608.5,388.7L593,415.5ZM586.4,502.8L617.3,502.8L601.8,529.6ZM595.2,504.1L626.1,504.1L610.6,530.9ZM604,530.9L634.9,530.9L619.4,557.7ZM612.7,475.9L643.7,475.9L628.2,502.7ZM621.5,491.3L652.5,491.3L637,518.1ZM630.3,490L661.3,490L645.8,516.8ZM639.1,490.9L670,490.9L654.6,517.7ZM647.9,506.3L678.8,506.3L663.4,533.1ZM656.7,482.9L687.6,482.9L672.2,509.7ZM665.5,465.8L696.4,465.8L681,492.6ZM674.3,510.3L705.2,510.3L689.7,537ZM683.1,484.7L714,484.7L698.5,511.5ZM691.9,484.7L722.8,484.7L707.3,511.5ZM700.6,487.4L731.6,487.4L716.1,514.1ZM709.4,474.6L740.4,474.6L724.9,501.4ZM718.2,509.8L749.2,509.8L733.7,536.6ZM727,468.9L757.9,468.9L742.5,495.6ZM735.8,510.7L766.7,510.7L751.3,537.5ZM744.6,462.3L775.5,462.3L760.1,489ZM753.4,537.8L784.3,537.8L768.9,564.6ZM762.2,510.7L793.1,510.7L777.6,537.5ZM771,499.7L801.9,499.7L786.4,526.5ZM779.8,464.9L810.7,464.9L795.2,491.7ZM788.5,487.8L819.5,487.8L804,514.6ZM797.3,492.2L828.3,492.2L812.8,519ZM806.1,487.8L837.1,487.8L821.6,514.6ZM814.9,481.2L845.8,481.2L830.4,508ZM823.7,468.2L854.6,468.2L839.2,495ZM832.5,494L863.4,494L848,520.7ZM841.3,402.1L872.2,402.1L856.8,428.9ZM850.1,503.2L881,503.2L865.5,530ZM858.9,557.8L889.8,557.8L874.3,584.6ZM867.7,498.8L898.6,498.8L883.1,525.6ZM876.4,494.8L907.4,494.8L891.9,521.6ZM885.2,482.2L916.2,482.2L900.7,509ZM894,458.9L925,458.9L909.5,485.7ZM902.8,513.8L933.7,513.8L918.3,540.6ZM911.6,465.5L942.5,465.5L927.1,492.3ZM920.4,498.4L951.3,498.4L935.9,525.2ZM929.2,528.3L960.1,528.3L944.6,555.1ZM938,491.8L968.9,491.8L953.4,518.5ZM946.8,471.9L977.7,471.9L962.2,498.7ZM955.6,456.1L986.5,456.1L971,482.9ZM964.3,544.4L995.3,544.4L979.8,571.2ZM973.1,472.8L1004.1,472.8L988.6,499.6ZM981.9,495.3L1012.9,495.3L997.4,522.1ZM990.7,496.2L1021.6,496.2L1006.2,523ZM999.5,479.4L1030.4,479.4L1015,506.2ZM1008.3,503.2L1039.2,503.2L1023.8,530ZM1017.1,511.1L1048,511.1L1032.5,537.9ZM1025.9,395.9L1056.8,395.9L1041.3,422.7ZM1034.7,502.8L1065.6,502.8L1050.1,529.6ZM1043.5,440L1074.4,440L1058.9,466.8ZM1052.2,533.6L1083.2,533.6L1067.7,560.4ZM1061,457.8L1092,457.8L1076.5,484.6ZM1069.8,531.4L1100.8,531.4L1085.3,558.2ZM1078.6,518.2L1109.5,518.2L1094.1,545ZM1087.4,535.8L1118.3,535.8L1102.9,562.6ZM1096.2,516L1127.1,516L1111.7,542.8ZM1105,474.6L1135.9,474.6L1120.5,501.4ZM1113.8,540.2L1144.7,540.2L1129.2,567ZM1122.6,511.6L1153.5,511.6L1138,538.4ZM1131.4,454.9L1162.3,454.9L1146.8,481.7ZM1140.1,511.6L1171.1,511.6L1155.6,538.4ZM1148.9,495.3L1179.9,495.3L1164.4,522.1ZM1157.7,482.9L1188.7,482.9L1173.2,509.7ZM1166.5,545.5L1197.4,545.5L1182,572.3ZM1175.3,507.2L1206.2,507.2L1190.8,534ZM1184.1,494.8L1215,494.8L1199.6,521.6ZM1192.9,490.4L1223.8,490.4L1208.3,517.2ZM1201.7,561.1L1232.6,561.1L1217.1,587.9ZM1210.5,496.7L1241.4,496.7L1225.9,523.5ZM1219.3,505.4L1250.2,505.4L1234.7,532.2ZM1228,545.5L1259,545.5L1243.5,572.3ZM1236.8,505.4L1267.8,505.4L1252.3,532.2ZM1245.6,536.7L1276.6,536.7L1261.1,563.5ZM1254.4,494L1285.3,494L1269.9,520.7ZM1263.2,490.9L1294.1,490.9L1278.7,517.7ZM1272,483.8L1302.9,483.8L1287.5,510.6ZM1280.8,497L1311.7,497L1296.2,523.8ZM1289.6,448.2L1320.5,448.2L1305,475ZM1298.4,511.6L1329.3,511.6L1313.8,538.4ZM1307.2,479L1338.1,479L1322.6,505.8ZM1315.9,432.3L1346.9,432.3L1331.4,459.1ZM1324.7,368.2L1355.7,368.2L1340.2,395ZM1333.5,512.5L1364.5,512.5L1349,539.2ZM1342.3,512L1373.2,512L1357.8,538.8ZM1351.1,492.2L1382,492.2L1366.6,519ZM1359.9,575.6L1390.8,575.6L1375.4,602.4ZM1368.7,494.8L1399.6,494.8L1384.2,521.6ZM1377.5,512L1408.4,512L1392.9,538.8ZM1386.3,524.8L1417.2,524.8L1401.7,551.6ZM1395.1,494L1426,494L1410.5,520.7ZM1403.8,502.8L1434.8,502.8L1419.3,529.6ZM1412.6,490L1443.6,490L1428.1,516.8ZM1421.4,409.8L1452.4,409.8L1436.9,436.6ZM1430.2,494L1461.1,494L1445.7,520.7ZM1439,498.8L1469.9,498.8L1454.5,525.6ZM1447.8,454.9L1478.7,454.9L1463.3,481.7ZM1456.6,506.7L1487.5,506.7L1472,533.5ZM1465.4,501.4L1496.3,501.4L1480.8,528.2ZM1474.2,477.2L1505.1,477.2L1489.6,504ZM1483,512.5L1513.9,512.5L1498.4,539.2ZM1491.7,515.5L1522.7,515.5L1507.2,542.3ZM1500.5,551.2L1531.5,551.2L1516,578ZM1509.3,482.9L1540.3,482.9L1524.8,509.7ZM1518.1,490.4L1549,490.4L1533.6,517.2ZM1526.9,541.1L1557.8,541.1L1542.4,567.9ZM1535.7,500.1L1566.6,500.1L1551.2,526.9ZM1544.5,498.8L1575.4,498.8L1560,525.6ZM1553.3,501.9L1584.2,501.9L1568.7,528.7ZM1562.1,531.4L1593,531.4L1577.5,558.2ZM1570.9,471.1L1601.8,471.1L1586.3,497.8ZM1579.6,491.3L1610.6,491.3L1595.1,518.1ZM1588.4,504.5L1619.4,504.5L1603.9,531.3ZM1597.2,493.1L1628.2,493.1L1612.7,519.9ZM1606,476.8L1636.9,476.8L1621.5,503.6ZM1614.8,476.8L1645.7,476.8L1630.3,503.6ZM1623.6,499.7L1654.5,499.7L1639.1,526.5ZM1632.4,536.7L1663.3,536.7L1647.8,563.5ZM1641.2,498.4L1672.1,498.4L1656.6,525.2ZM1650,494L1680.9,494L1665.4,520.7ZM1658.8,485.2L1689.7,485.2L1674.2,511.9ZM1667.5,377.3L1698.5,377.3L1683,404.1ZM1676.3,484.8L1707.3,484.8L1691.8,511.6ZM1685.1,468.4L1716.1,468.4L1700.6,495.2ZM1693.9,510.3L1724.8,510.3L1709.4,537ZM1702.7,535.8L1733.6,535.8L1718.2,562.6ZM1711.5,533.3L1742.4,533.3L1727,560.1ZM1720.3,509.4L1751.2,509.4L1735.8,536.2ZM1729.1,508.1L1760,508.1L1744.5,534.8ZM1737.9,536.7L1768.8,536.7L1753.3,563.5ZM1746.7,364.9L1777.6,364.9L1762.1,391.7ZM1755.4,504.5L1786.4,504.5L1770.9,531.3ZM1764.2,447.7L1795.2,447.7L1779.7,474.5ZM1773,509.8L1804,509.8L1788.5,536.6ZM1781.8,460.8L1812.7,460.8L1797.3,487.5ZM1790.6,487.8L1821.5,487.8L1806.1,514.6ZM1799.4,487.8L1830.3,487.8L1814.9,514.6ZM1808.2,434.9L1839.1,434.9L1823.7,461.7ZM1817,541.1L1847.9,541.1L1832.4,567.9ZM1825.8,487.8L1856.7,487.8L1841.2,514.6ZM1834.6,487.8L1865.5,487.8L1850,514.6ZM1843.3,494.4L1874.3,494.4L1858.8,521.2ZM1852.1,495.3L1883.1,495.3L1867.6,522.1ZM1860.9,500.6L1891.9,500.6L1876.4,527.4ZM1869.7,508.9L1900.6,508.9L1885.2,535.7ZM1878.5,505L1909.4,505L1894,531.8ZM1887.3,531.4L1918.2,531.4L1902.8,558.2ZM1896.1,552.1L1927,552.1L1911.5,578.9ZM1904.9,500.1L1935.8,500.1L1920.3,526.9ZM1913.7,500.6L1944.6,500.6L1929.1,527.4ZM1922.5,512.5L1953.4,512.5L1937.9,539.2ZM1931.2,491.8L1962.2,491.8L1946.7,518.5ZM1940,482.9L1971,482.9L1955.5,509.7Z" fill="none" stroke="#000000" stroke-width="5.5" stroke-linejoin="miter" stroke-miterlimit="10"/>
<polyline points="206.3,532.8 215.1,535 223.9,535.9 232.7,534.2 241.4,535.5 250.2,534.6 259,535.5 267.8,519.6 276.6,523.1 285.4,532.8 294.2,533.7 303,559 311.8,523.1 320.6,498.7 329.4,535 338.1,541.2 346.9,541.2 355.7,544.7 364.5,532.8 373.3,522.3 382.1,522.3 390.9,508.8 399.7,535 408.5,543.4 417.2,540.8 426,541.6 434.8,539 443.6,540.8 452.4,538.1 461.2,557.1 470,519.2 478.8,518.7 487.6,529.3 496.4,539 505.1,528.4 513.9,538.1 522.7,524.5 531.5,525.3 540.3,518.7 549.1,532 557.9,539 566.7,531.1 575.5,538.1 584.3,541.6 593,529.3 601.8,490.6 610.6,543 619.4,542.1 628.2,496.3 637,503.8 645.8,531.5 654.6,537.2 663.4,533.7 672.2,559.7 681,520.9 689.7,529.3 698.5,533.7 707.3,529.3 716.1,553.5 724.9,513.9 733.7,533.7 742.5,511.7 751.3,513.9 760.1,531.5 768.9,545.8 777.6,511.3 786.4,524.9 795.2,544.3 804,529.3 812.8,564.8 821.6,522.7 830.4,510.6 839.2,524.9 848,529.3 856.8,522.7 865.5,530.2 874.3,524.9 883.1,552.7 891.9,502.9 900.7,555.7 909.5,517.9 918.3,520.5 927.1,513 935.9,511.7 944.6,541.2 953.4,495 962.2,524.9 971,535.9 979.8,524.9 988.6,533.7 997.4,527.1 1006.2,541.2 1015,516.1 1023.8,534.2 1032.5,533.7 1041.3,532.8 1050.1,545.8 1058.9,511.7 1067.7,531.1 1076.5,532 1085.3,530.2 1094.1,531.5 1102.9,530.6 1111.7,516.1 1120.5,530.2 1129.2,531.1 1138,529.8 1146.8,567 1155.6,530.6 1164.4,508.3 1173.2,533.7 1182,539.9 1190.8,516.1 1199.6,530.6 1208.3,506.1 1217.1,533.3 1225.9,550.3 1234.7,513 1243.5,533.3 1252.3,533.3 1261.1,536.4 1269.9,533.7 1278.7,516.1 1287.5,516.1 1296.2,546.9 1305,555.7 1313.8,516.1 1322.6,535.9 1331.4,533.7 1340.2,513 1349,513 1357.8,531.5 1366.6,472.2 1375.4,533.7 1384.2,533.9 1392.9,508.4 1401.7,524.9 1410.5,484.8 1419.3,542.5 1428.1,535 1436.9,557.1 1445.7,506.1 1454.5,507.3 1463.3,524.9 1472,502.9 1480.8,511.7 1489.6,484 1498.4,536.4 1507.2,531.5 1516,535.5 1524.8,487.2 1533.6,533.3 1542.4,532 1551.2,532.8 1560,516.1 1568.7,522.7 1577.5,552.7 1586.3,496.1 1595.1,524.9 1603.9,530.2 1612.7,528 1621.5,498.5 1630.3,534.2 1639.1,550.9 1647.8,533.3 1656.6,516.1 1665.4,532.8 1674.2,548.9 1683,549.1 1691.8,531.5 1700.6,535.9 1709.4,507.3 1718.2,545.8 1727,507.3 1735.8,531.5 1744.5,530.6 1753.3,532 1762.1,531.1 1770.9,530.2 1779.7,531.5 1788.5,510.6 1797.3,547.4 1806.1,551.8 1814.9,522.9 1823.7,522.3 1832.4,524.9 1841.2,522.3 1850,523.6 1858.8,549.1 1867.6,529.3 1876.4,528.4 1885.2,509.1 1894,501.6 1902.8,529.8 1911.5,530.6 1920.3,545.8 1929.1,541.6 1937.9,550.2 1946.7,534.2 1955.5,546.5" fill="none" stroke="#ff0000" stroke-width="5.5" stroke-linejoin="miter"/>
<path d="M192.6,532.8a13.7,13.7 0 1,0 27.4,0a13.7,13.7 0 1,0 -27.4,0M201.4,535a13.7,13.7 0 1,0 27.4,0a13.7,13.7 0 1,0 -27.4,0M210.2,535.9a13.7,13.7 0 1,0 27.4,0a13.7,13.7 0 1,0 -27.4,0M219,534.2a13.7,13.7 0 1,0 27.4,0a13.7,13.7 0 1,0 -27.4,0M227.8,535.5a13.7,13.7 0 1,0 27.4,0a13.7,13.7 0 1,0 -27.4,0M236.5,534.6a13.7,13.7 0 1,0 27.4,0a13.7,13.7 0 1,0 -27.4,0M245.3,535.5a13.7,13.7 0 1,0 27.4,0a13.7,13.7 0 1,0 -27.4,0M254.1,519.6a13.7,13.7 0 1,0 27.4,0a13.7,13.7 0 1,0 -27.4,0M262.9,523.1a13.7,13.7 0 1,0 27.4,0a13.7,13.7 0 1,0 -27.4,0M271.7,532.8a13.7,13.7 0 1,0 27.4,0a13.7,13.7 0 1,0 -27.4,0M280.5,533.7a13.7,13.7 0 1,0 27.4,0a13.7,13.7 0 1,0 -27.4,0M289.3,559a13.7,13.7 0 1,0 27.4,0a13.7,13.7 0 1,0 -27.4,0M298.1,523.1a13.7,13.7 0 1,0 27.4,0a13.7,13.7 0 1,0 -27.4,0M306.9,498.7a13.7,13.7 0 1,0 27.4,0a13.7,13.7 0 1,0 -27.4,0M315.7,535a13.7,13.7 0 1,0 27.4,0a13.7,13.7 0 1,0 -27.4,0M324.4,541.2a13.7,13.7 0 1,0 27.4,0a13.7,13.7 0 1,0 -27.4,0M333.2,541.2a13.7,13.7 0 1,0 27.4,0a13.7,13.7 0 1,0 -27.4,0M342,544.7a13.7,13.7 0 1,0 27.4,0a13.7,13.7 0 1,0 -27.4,0M350.8,532.8a13.7,13.7 0 1,0 27.4,0a13.7,13.7 0 1,0 -27.4,0M359.6,522.3a13.7,13.7 0 1,0 27.4,0a13.7,13.7 0 1,0 -27.4,0M368.4,522.3a13.7,13.7 0 1,0 27.4,0a13.7,13.7 0 1,0 -27.4,0M377.2,508.8a13.7,13.7 0 1,0 27.4,0a13.7,13.7 0 1,0 -27.4,0M386,535a13.7,13.7 0 1,0 27.4,0a13.7,13.7 0 1,0 -27.4,0M394.8,543.4a13.7,13.7 0 1,0 27.4,0a13.7,13.7 0 1,0 -27.4,0M403.6,540.8a13.7,13.7 0 1,0 27.4,0a13.7,13.7 0 1,0 -27.4,0M412.3,541.6a13.7,13.7 0 1,0 27.4,0a13.7,13.7 0 1,0 -27.4,0M421.1,539a13.7,13.7 0 1,0 27.4,0a13.7,13.7 0 1,0 -27.4,0M429.9,540.8a13.7,13.7 0 1,0 27.4,0a13.7,13.7 0 1,0 -27.4,0M438.7,538.1a13.7,13.7 0 1,0 27.4,0a13.7,13.7 0 1,0 -27.4,0M447.5,557.1a13.7,13.7 0 1,0 27.4,0a13.7,13.7 0 1,0 -27.4,0M456.3,519.2a13.7,13.7 0 1,0 27.4,0a13.7,13.7 0 1,0 -27.4,0M465.1,518.7a13.7,13.7 0 1,0 27.4,0a13.7,13.7 0 1,0 -27.4,0M473.9,529.3a13.7,13.7 0 1,0 27.4,0a13.7,13.7 0 1,0 -27.4,0M482.7,539a13.7,13.7 0 1,0 27.4,0a13.7,13.7 0 1,0 -27.4,0M491.4,528.4a13.7,13.7 0 1,0 27.4,0a13.7,13.7 0 1,0 -27.4,0M500.2,538.1a13.7,13.7 0 1,0 27.4,0a13.7,13.7 0 1,0 -27.4,0M509,524.5a13.7,13.7 0 1,0 27.4,0a13.7,13.7 0 1,0 -27.4,0M517.8,525.3a13.7,13.7 0 1,0 27.4,0a13.7,13.7 0 1,0 -27.4,0M526.6,518.7a13.7,13.7 0 1,0 27.4,0a13.7,13.7 0 1,0 -27.4,0M535.4,532a13.7,13.7 0 1,0 27.4,0a13.7,13.7 0 1,0 -27.4,0M544.2,539a13.7,13.7 0 1,0 27.4,0a13.7,13.7 0 1,0 -27.4,0M553,531.1a13.7,13.7 0 1,0 27.4,0a13.7,13.7 0 1,0 -27.4,0M561.8,538.1a13.7,13.7 0 1,0 27.4,0a13.7,13.7 0 1,0 -27.4,0M570.6,541.6a13.7,13.7 0 1,0 27.4,0a13.7,13.7 0 1,0 -27.4,0M579.3,529.3a13.7,13.7 0 1,0 27.4,0a13.7,13.7 0 1,0 -27.4,0M588.1,490.6a13.7,13.7 0 1,0 27.4,0a13.7,13.7 0 1,0 -27.4,0M596.9,543a13.7,13.7 0 1,0 27.4,0a13.7,13.7 0 1,0 -27.4,0M605.7,542.1a13.7,13.7 0 1,0 27.4,0a13.7,13.7 0 1,0 -27.4,0M614.5,496.3a13.7,13.7 0 1,0 27.4,0a13.7,13.7 0 1,0 -27.4,0M623.3,503.8a13.7,13.7 0 1,0 27.4,0a13.7,13.7 0 1,0 -27.4,0M632.1,531.5a13.7,13.7 0 1,0 27.4,0a13.7,13.7 0 1,0 -27.4,0M640.9,537.2a13.7,13.7 0 1,0 27.4,0a13.7,13.7 0 1,0 -27.4,0M649.7,533.7a13.7,13.7 0 1,0 27.4,0a13.7,13.7 0 1,0 -27.4,0M658.5,559.7a13.7,13.7 0 1,0 27.4,0a13.7,13.7 0 1,0 -27.4,0M667.2,520.9a13.7,13.7 0 1,0 27.4,0a13.7,13.7 0 1,0 -27.4,0M676,529.3a13.7,13.7 0 1,0 27.4,0a13.7,13.7 0 1,0 -27.4,0M684.8,533.7a13.7,13.7 0 1,0 27.4,0a13.7,13.7 0 1,0 -27.4,0M693.6,529.3a13.7,13.7 0 1,0 27.4,0a13.7,13.7 0 1,0 -27.4,0M702.4,553.5a13.7,13.7 0 1,0 27.4,0a13.7,13.7 0 1,0 -27.4,0M711.2,513.9a13.7,13.7 0 1,0 27.4,0a13.7,13.7 0 1,0 -27.4,0M720,533.7a13.7,13.7 0 1,0 27.4,0a13.7,13.7 0 1,0 -27.4,0M728.8,511.7a13.7,13.7 0 1,0 27.4,0a13.7,13.7 0 1,0 -27.4,0M737.6,513.9a13.7,13.7 0 1,0 27.4,0a13.7,13.7 0 1,0 -27.4,0M746.4,531.5a13.7,13.7 0 1,0 27.4,0a13.7,13.7 0 1,0 -27.4,0M755.1,545.8a13.7,13.7 0 1,0 27.4,0a13.7,13.7 0 1,0 -27.4,0M763.9,511.3a13.7,13.7 0 1,0 27.4,0a13.7,13.7 0 1,0 -27.4,0M772.7,524.9a13.7,13.7 0 1,0 27.4,0a13.7,13.7 0 1,0 -27.4,0M781.5,544.3a13.7,13.7 0 1,0 27.4,0a13.7,13.7 0 1,0 -27.4,0M790.3,529.3a13.7,13.7 0 1,0 27.4,0a13.7,13.7 0 1,0 -27.4,0M799.1,564.8a13.7,13.7 0 1,0 27.4,0a13.7,13.7 0 1,0 -27.4,0M807.9,522.7a13.7,13.7 0 1,0 27.4,0a13.7,13.7 0 1,0 -27.4,0M816.7,510.6a13.7,13.7 0 1,0 27.4,0a13.7,13.7 0 1,0 -27.4,0M825.5,524.9a13.7,13.7 0 1,0 27.4,0a13.7,13.7 0 1,0 -27.4,0M834.3,529.3a13.7,13.7 0 1,0 27.4,0a13.7,13.7 0 1,0 -27.4,0M843,522.7a13.7,13.7 0 1,0 27.4,0a13.7,13.7 0 1,0 -27.4,0M851.8,530.2a13.7,13.7 0 1,0 27.4,0a13.7,13.7 0 1,0 -27.4,0M860.6,524.9a13.7,13.7 0 1,0 27.4,0a13.7,13.7 0 1,0 -27.4,0M869.4,552.7a13.7,13.7 0 1,0 27.4,0a13.7,13.7 0 1,0 -27.4,0M878.2,502.9a13.7,13.7 0 1,0 27.4,0a13.7,13.7 0 1,0 -27.4,0M887,555.7a13.7,13.7 0 1,0 27.4,0a13.7,13.7 0 1,0 -27.4,0M895.8,517.9a13.7,13.7 0 1,0 27.4,0a13.7,13.7 0 1,0 -27.4,0M904.6,520.5a13.7,13.7 0 1,0 27.4,0a13.7,13.7 0 1,0 -27.4,0M913.4,513a13.7,13.7 0 1,0 27.4,0a13.7,13.7 0 1,0 -27.4,0M922.2,511.7a13.7,13.7 0 1,0 27.4,0a13.7,13.7 0 1,0 -27.4,0M930.9,541.2a13.7,13.7 0 1,0 27.4,0a13.7,13.7 0 1,0 -27.4,0M939.7,495a13.7,13.7 0 1,0 27.4,0a13.7,13.7 0 1,0 -27.4,0M948.5,524.9a13.7,13.7 0 1,0 27.4,0a13.7,13.7 0 1,0 -27.4,0M957.3,535.9a13.7,13.7 0 1,0 27.4,0a13.7,13.7 0 1,0 -27.4,0M966.1,524.9a13.7,13.7 0 1,0 27.4,0a13.7,13.7 0 1,0 -27.4,0M974.9,533.7a13.7,13.7 0 1,0 27.4,0a13.7,13.7 0 1,0 -27.4,0M983.7,527.1a13.7,13.7 0 1,0 27.4,0a13.7,13.7 0 1,0 -27.4,0M992.5,541.2a13.7,13.7 0 1,0 27.4,0a13.7,13.7 0 1,0 -27.4,0M1001.3,516.1a13.7,13.7 0 1,0 27.4,0a13.7,13.7 0 1,0 -27.4,0M1010.1,534.2a13.7,13.7 0 1,0 27.4,0a13.7,13.7 0 1,0 -27.4,0M1018.8,533.7a13.7,13.7 0 1,0 27.4,0a13.7,13.7 0 1,0 -27.4,0M1027.6,532.8a13.7,13.7 0 1,0 27.4,0a13.7,13.7 0 1,0 -27.4,0M1036.4,545.8a13.7,13.7 0 1,0 27.4,0a13.7,13.7 0 1,0 -27.4,0M1045.2,511.7a13.7,13.7 0 1,0 27.4,0a13.7,13.7 0 1,0 -27.4,0M1054,531.1a13.7,13.7 0 1,0 27.4,0a13.7,13.7 0 1,0 -27.4,0M1062.8,532a13.7,13.7 0 1,0 27.4,0a13.7,13.7 0 1,0 -27.4,0M1071.6,530.2a13.7,13.7 0 1,0 27.4,0a13.7,13.7 0 1,0 -27.4,0M1080.4,531.5a13.7,13.7 0 1,0 27.4,0a13.7,13.7 0 1,0 -27.4,0M1089.2,530.6a13.7,13.7 0 1,0 27.4,0a13.7,13.7 0 1,0 -27.4,0M1098,516.1a13.7,13.7 0 1,0 27.4,0a13.7,13.7 0 1,0 -27.4,0M1106.8,530.2a13.7,13.7 0 1,0 27.4,0a13.7,13.7 0 1,0 -27.4,0M1115.5,531.1a13.7,13.7 0 1,0 27.4,0a13.7,13.7 0 1,0 -27.4,0M1124.3,529.8a13.7,13.7 0 1,0 27.4,0a13.7,13.7 0 1,0 -27.4,0M1133.1,567a13.7,13.7 0 1,0 27.4,0a13.7,13.7 0 1,0 -27.4,0M1141.9,530.6a13.7,13.7 0 1,0 27.4,0a13.7,13.7 0 1,0 -27.4,0M1150.7,508.3a13.7,13.7 0 1,0 27.4,0a13.7,13.7 0 1,0 -27.4,0M1159.5,533.7a13.7,13.7 0 1,0 27.4,0a13.7,13.7 0 1,0 -27.4,0M1168.3,539.9a13.7,13.7 0 1,0 27.4,0a13.7,13.7 0 1,0 -27.4,0M1177.1,516.1a13.7,13.7 0 1,0 27.4,0a13.7,13.7 0 1,0 -27.4,0M1185.9,530.6a13.7,13.7 0 1,0 27.4,0a13.7,13.7 0 1,0 -27.4,0M1194.6,506.1a13.7,13.7 0 1,0 27.4,0a13.7,13.7 0 1,0 -27.4,0M1203.4,533.3a13.7,13.7 0 1,0 27.4,0a13.7,13.7 0 1,0 -27.4,0M1212.2,550.3a13.7,13.7 0 1,0 27.4,0a13.7,13.7 0 1,0 -27.4,0M1221,513a13.7,13.7 0 1,0 27.4,0a13.7,13.7 0 1,0 -27.4,0M1229.8,533.3a13.7,13.7 0 1,0 27.4,0a13.7,13.7 0 1,0 -27.4,0M1238.6,533.3a13.7,13.7 0 1,0 27.4,0a13.7,13.7 0 1,0 -27.4,0M1247.4,536.4a13.7,13.7 0 1,0 27.4,0a13.7,13.7 0 1,0 -27.4,0M1256.2,533.7a13.7,13.7 0 1,0 27.4,0a13.7,13.7 0 1,0 -27.4,0M1265,516.1a13.7,13.7 0 1,0 27.4,0a13.7,13.7 0 1,0 -27.4,0M1273.8,516.1a13.7,13.7 0 1,0 27.4,0a13.7,13.7 0 1,0 -27.4,0M1282.5,546.9a13.7,13.7 0 1,0 27.4,0a13.7,13.7 0 1,0 -27.4,0M1291.3,555.7a13.7,13.7 0 1,0 27.4,0a13.7,13.7 0 1,0 -27.4,0M1300.1,516.1a13.7,13.7 0 1,0 27.4,0a13.7,13.7 0 1,0 -27.4,0M1308.9,535.9a13.7,13.7 0 1,0 27.4,0a13.7,13.7 0 1,0 -27.4,0M1317.7,533.7a13.7,13.7 0 1,0 27.4,0a13.7,13.7 0 1,0 -27.4,0M1326.5,513a13.7,13.7 0 1,0 27.4,0a13.7,13.7 0 1,0 -27.4,0M1335.3,513a13.7,13.7 0 1,0 27.4,0a13.7,13.7 0 1,0 -27.4,0M1344.1,531.5a13.7,13.7 0 1,0 27.4,0a13.7,13.7 0 1,0 -27.4,0M1352.9,472.2a13.7,13.7 0 1,0 27.4,0a13.7,13.7 0 1,0 -27.4,0M1361.7,533.7a13.7,13.7 0 1,0 27.4,0a13.7,13.7 0 1,0 -27.4,0M1370.5,533.9a13.7,13.7 0 1,0 27.4,0a13.7,13.7 0 1,0 -27.4,0M1379.2,508.4a13.7,13.7 0 1,0 27.4,0a13.7,13.7 0 1,0 -27.4,0M1388,524.9a13.7,13.7 0 1,0 27.4,0a13.7,13.7 0 1,0 -27.4,0M1396.8,484.8a13.7,13.7 0 1,0 27.4,0a13.7,13.7 0 1,0 -27.4,0M1405.6,542.5a13.7,13.7 0 1,0 27.4,0a13.7,13.7 0 1,0 -27.4,0M1414.4,535a13.7,13.7 0 1,0 27.4,0a13.7,13.7 0 1,0 -27.4,0M1423.2,557.1a13.7,13.7 0 1,0 27.4,0a13.7,13.7 0 1,0 -27.4,0M1432,506.1a13.7,13.7 0 1,0 27.4,0a13.7,13.7 0 1,0 -27.4,0M1440.8,507.3a13.7,13.7 0 1,0 27.4,0a13.7,13.7 0 1,0 -27.4,0M1449.6,524.9a13.7,13.7 0 1,0 27.4,0a13.7,13.7 0 1,0 -27.4,0M1458.3,502.9a13.7,13.7 0 1,0 27.4,0a13.7,13.7 0 1,0 -27.4,0M1467.1,511.7a13.7,13.7 0 1,0 27.4,0a13.7,13.7 0 1,0 -27.4,0M1475.9,484a13.7,13.7 0 1,0 27.4,0a13.7,13.7 0 1,0 -27.4,0M1484.7,536.4a13.7,13.7 0 1,0 27.4,0a13.7,13.7 0 1,0 -27.4,0M1493.5,531.5a13.7,13.7 0 1,0 27.4,0a13.7,13.7 0 1,0 -27.4,0M1502.3,535.5a13.7,13.7 0 1,0 27.4,0a13.7,13.7 0 1,0 -27.4,0M1511.1,487.2a13.7,13.7 0 1,0 27.4,0a13.7,13.7 0 1,0 -27.4,0M1519.9,533.3a13.7,13.7 0 1,0 27.4,0a13.7,13.7 0 1,0 -27.4,0M1528.7,532a13.7,13.7 0 1,0 27.4,0a13.7,13.7 0 1,0 -27.4,0M1537.5,532.8a13.7,13.7 0 1,0 27.4,0a13.7,13.7 0 1,0 -27.4,0M1546.2,516.1a13.7,13.7 0 1,0 27.4,0a13.7,13.7 0 1,0 -27.4,0M1555,522.7a13.7,13.7 0 1,0 27.4,0a13.7,13.7 0 1,0 -27.4,0M1563.8,552.7a13.7,13.7 0 1,0 27.4,0a13.7,13.7 0 1,0 -27.4,0M1572.6,496.1a13.7,13.7 0 1,0 27.4,0a13.7,13.7 0 1,0 -27.4,0M1581.4,524.9a13.7,13.7 0 1,0 27.4,0a13.7,13.7 0 1,0 -27.4,0M1590.2,530.2a13.7,13.7 0 1,0 27.4,0a13.7,13.7 0 1,0 -27.4,0M1599,528a13.7,13.7 0 1,0 27.4,0a13.7,13.7 0 1,0 -27.4,0M1607.8,498.5a13.7,13.7 0 1,0 27.4,0a13.7,13.7 0 1,0 -27.4,0M1616.6,534.2a13.7,13.7 0 1,0 27.4,0a13.7,13.7 0 1,0 -27.4,0M1625.4,550.9a13.7,13.7 0 1,0 27.4,0a13.7,13.7 0 1,0 -27.4,0M1634.1,533.3a13.7,13.7 0 1,0 27.4,0a13.7,13.7 0 1,0 -27.4,0M1642.9,516.1a13.7,13.7 0 1,0 27.4,0a13.7,13.7 0 1,0 -27.4,0M1651.7,532.8a13.7,13.7 0 1,0 27.4,0a13.7,13.7 0 1,0 -27.4,0M1660.5,548.9a13.7,13.7 0 1,0 27.4,0a13.7,13.7 0 1,0 -27.4,0M1669.3,549.1a13.7,13.7 0 1,0 27.4,0a13.7,13.7 0 1,0 -27.4,0M1678.1,531.5a13.7,13.7 0 1,0 27.4,0a13.7,13.7 0 1,0 -27.4,0M1686.9,535.9a13.7,13.7 0 1,0 27.4,0a13.7,13.7 0 1,0 -27.4,0M1695.7,507.3a13.7,13.7 0 1,0 27.4,0a13.7,13.7 0 1,0 -27.4,0M1704.5,545.8a13.7,13.7 0 1,0 27.4,0a13.7,13.7 0 1,0 -27.4,0M1713.3,507.3a13.7,13.7 0 1,0 27.4,0a13.7,13.7 0 1,0 -27.4,0M1722,531.5a13.7,13.7 0 1,0 27.4,0a13.7,13.7 0 1,0 -27.4,0M1730.8,530.6a13.7,13.7 0 1,0 27.4,0a13.7,13.7 0 1,0 -27.4,0M1739.6,532a13.7,13.7 0 1,0 27.4,0a13.7,13.7 0 1,0 -27.4,0M1748.4,531.1a13.7,13.7 0 1,0 27.4,0a13.7,13.7 0 1,0 -27.4,0M1757.2,530.2a13.7,13.7 0 1,0 27.4,0a13.7,13.7 0 1,0 -27.4,0M1766,531.5a13.7,13.7 0 1,0 27.4,0a13.7,13.7 0 1,0 -27.4,0M1774.8,510.6a13.7,13.7 0 1,0 27.4,0a13.7,13.7 0 1,0 -27.4,0M1783.6,547.4a13.7,13.7 0 1,0 27.4,0a13.7,13.7 0 1,0 -27.4,0M1792.4,551.8a13.7,13.7 0 1,0 27.4,0a13.7,13.7 0 1,0 -27.4,0M1801.2,522.9a13.7,13.7 0 1,0 27.4,0a13.7,13.7 0 1,0 -27.4,0M1810,522.3a13.7,13.7 0 1,0 27.4,0a13.7,13.7 0 1,0 -27.4,0M1818.7,524.9a13.7,13.7 0 1,0 27.4,0a13.7,13.7 0 1,0 -27.4,0M1827.5,522.3a13.7,13.7 0 1,0 27.4,0a13.7,13.7 0 1,0 -27.4,0M1836.3,523.6a13.7,13.7 0 1,0 27.4,0a13.7,13.7 0 1,0 -27.4,0M1845.1,549.1a13.7,13.7 0 1,0 27.4,0a13.7,13.7 0 1,0 -27.4,0M1853.9,529.3a13.7,13.7 0 1,0 27.4,0a13.7,13.7 0 1,0 -27.4,0M1862.7,528.4a13.7,13.7 0 1,0 27.4,0a13.7,13.7 0 1,0 -27.4,0M1871.5,509.1a13.7,13.7 0 1,0 27.4,0a13.7,13.7 0 1,0 -27.4,0M1880.3,501.6a13.7,13.7 0 1,0 27.4,0a13.7,13.7 0 1,0 -27.4,0M1889.1,529.8a13.7,13.7 0 1,0 27.4,0a13.7,13.7 0 1,0 -27.4,0M1897.8,530.6a13.7,13.7 0 1,0 27.4,0a13.7,13.7 0 1,0 -27.4,0M1906.6,545.8a13.7,13.7 0 1,0 27.4,0a13.7,13.7 0 1,0 -27.4,0M1915.4,541.6a13.7,13.7 0 1,0 27.4,0a13.7,13.7 0 1,0 -27.4,0M1924.2,550.2a13.7,13.7 0 1,0 27.4,0a13.7,13.7 0 1,0 -27.4,0M1933,534.2a13.7,13.7 0 1,0 27.4,0a13.7,13.7 0 1,0 -27.4,0M1941.8,546.5a13.7,13.7 0 1,0 27.4,0a13.7,13.7 0 1,0 -27.4,0" fill="none" stroke="#ff0000" stroke-width="5.5" stroke-linejoin="miter" stroke-miterlimit="10"/>
<line x1="206.3" y1="524.9" x2="1955.5" y2="524.9" stroke="#0a246a" stroke-width="6.9"/>
</g>
<g text-anchor="middle">
<text x="197.5" y="1284.6">0</text>
<text x="373.3" y="1284.6">20</text>
<text x="549.1" y="1284.6">40</text>
<text x="724.9" y="1284.6">60</text>
<text x="900.7" y="1284.6">80</text>
<text x="1076.5" y="1284.6">100</text>
<text x="1252.3" y="1284.6">120</text>
<text x="1428.1" y="1284.6">140</text>
<text x="1603.9" y="1284.6">160</text>
<text x="1779.7" y="1284.6">180</text>
<text x="1955.5" y="1284.6">200</text>
<text x="1076.9" y="1338.6">Number of runs</text>
<text transform="translate(63,635.8) rotate(-90)">Estimates of h(3,3,3)</text>
</g>
<g text-anchor="end">
<text x="184.5" y="1157.7">−0.5</text>
<text x="184.5" y="937.5">0</text>
<text x="184.5" y="717.4">0.5</text>
<text x="184.5" y="497.2">1</text>
<text x="184.5" y="277">1.5</text>
<text x="184.5" y="56.8">2</text>
</g>
<g shape-rendering="crispEdges">
<rect x="219" y="910" width="600" height="299" fill="#000"/><rect x="222" y="914" width="594" height="291" fill="#fff"/>
<line x1="248" y1="946.9" x2="390" y2="946.9" stroke="#0000ff" stroke-width="5.5"/>
<path d="M319,929.7L332.8,946.9L319,964.1L305.2,946.9Z" fill="none" stroke="#0000ff" stroke-width="5.5" stroke-miterlimit="10"/>
<line x1="248" y1="1003.1" x2="390" y2="1003.1" stroke="#00ff00" stroke-width="5.5"/>
<path d="M305,1003.1H333M319,989.1V1017.1M309.1,993.2L328.9,1013M309.1,1013L328.9,993.2" fill="none" stroke="#00ff00" stroke-width="5.5" stroke-miterlimit="10"/>
<line x1="248" y1="1059.3" x2="390" y2="1059.3" stroke="#000000" stroke-width="5.5"/>
<path d="M303.5,1050.4L334.5,1050.4L319,1077.2Z" fill="none" stroke="#000000" stroke-width="5.5" stroke-miterlimit="10"/>
<line x1="248" y1="1115.5" x2="390" y2="1115.5" stroke="#ff0000" stroke-width="5.5"/>
<path d="M305.3,1115.5a13.7,13.7 0 1,0 27.4,0a13.7,13.7 0 1,0 -27.4,0" fill="none" stroke="#ff0000" stroke-width="5.5" stroke-miterlimit="10"/>
<line x1="248" y1="1171.7" x2="390" y2="1171.7" stroke="#0a246a" stroke-width="6.9"/>
</g>
<text x="403" y="963.3" style="font-size:46.15px">CIMLLAD (N=800)</text>
<text x="403" y="1019.4" style="font-size:46.15px">CIMLLAD (N=2400)</text>
<text x="403" y="1075.5" style="font-size:46.15px">AlgCum5 (N=800)</text>
<text x="403" y="1131.6" style="font-size:46.15px">AlgCum5 (N=2400)</text>
<text x="403" y="1187.7" style="font-size:46.15px">True kernel</text>
</svg></body></html>
